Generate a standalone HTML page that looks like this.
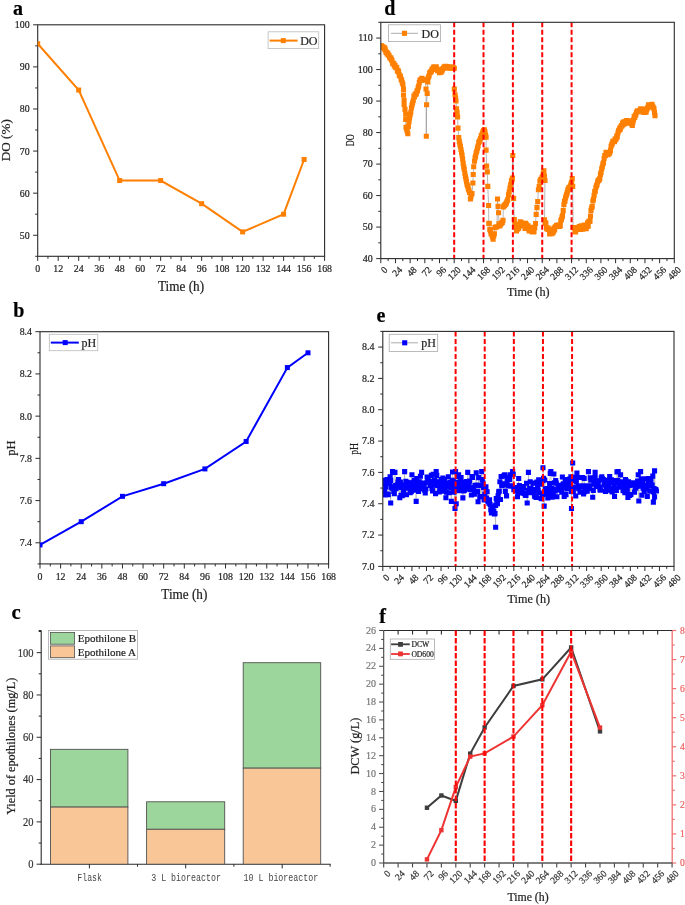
<!DOCTYPE html>
<html><head><meta charset="utf-8"><style>
html,body{margin:0;padding:0;background:#fff;}
svg{display:block;filter:brightness(1);}
</style></head><body>
<svg width="685" height="905" viewBox="0 0 685 905">
<rect width="685" height="905" fill="#fff"/>
<line x1="33.1" y1="235.25" x2="37.7" y2="235.25" stroke="#2b2b2b" stroke-width="1" />
<text x="0" y="0" font-size="9.9" text-anchor="end" fill="#222" stroke="#222" stroke-width="0.2" style="font-family:'Liberation Serif',serif;font-weight:normal" transform="translate(29.7,238.75) scale(1,1.1)" >50</text>
<line x1="33.1" y1="193.16" x2="37.7" y2="193.16" stroke="#2b2b2b" stroke-width="1" />
<text x="0" y="0" font-size="9.9" text-anchor="end" fill="#222" stroke="#222" stroke-width="0.2" style="font-family:'Liberation Serif',serif;font-weight:normal" transform="translate(29.7,196.66) scale(1,1.1)" >60</text>
<line x1="33.1" y1="151.07" x2="37.7" y2="151.07" stroke="#2b2b2b" stroke-width="1" />
<text x="0" y="0" font-size="9.9" text-anchor="end" fill="#222" stroke="#222" stroke-width="0.2" style="font-family:'Liberation Serif',serif;font-weight:normal" transform="translate(29.7,154.57) scale(1,1.1)" >70</text>
<line x1="33.1" y1="108.98" x2="37.7" y2="108.98" stroke="#2b2b2b" stroke-width="1" />
<text x="0" y="0" font-size="9.9" text-anchor="end" fill="#222" stroke="#222" stroke-width="0.2" style="font-family:'Liberation Serif',serif;font-weight:normal" transform="translate(29.7,112.48) scale(1,1.1)" >80</text>
<line x1="33.1" y1="66.89" x2="37.7" y2="66.89" stroke="#2b2b2b" stroke-width="1" />
<text x="0" y="0" font-size="9.9" text-anchor="end" fill="#222" stroke="#222" stroke-width="0.2" style="font-family:'Liberation Serif',serif;font-weight:normal" transform="translate(29.7,70.39) scale(1,1.1)" >90</text>
<line x1="33.1" y1="24.8" x2="37.7" y2="24.8" stroke="#2b2b2b" stroke-width="1" />
<text x="0" y="0" font-size="9.9" text-anchor="end" fill="#222" stroke="#222" stroke-width="0.2" style="font-family:'Liberation Serif',serif;font-weight:normal" transform="translate(29.7,28.3) scale(1,1.1)" >100</text>
<line x1="35.2" y1="256.3" x2="37.7" y2="256.3" stroke="#2b2b2b" stroke-width="1" />
<line x1="35.2" y1="214.21" x2="37.7" y2="214.21" stroke="#2b2b2b" stroke-width="1" />
<line x1="35.2" y1="172.12" x2="37.7" y2="172.12" stroke="#2b2b2b" stroke-width="1" />
<line x1="35.2" y1="130.03" x2="37.7" y2="130.03" stroke="#2b2b2b" stroke-width="1" />
<line x1="35.2" y1="87.94" x2="37.7" y2="87.94" stroke="#2b2b2b" stroke-width="1" />
<line x1="35.2" y1="45.85" x2="37.7" y2="45.85" stroke="#2b2b2b" stroke-width="1" />
<line x1="37.7" y1="256.3" x2="37.7" y2="260.9" stroke="#2b2b2b" stroke-width="1" />
<text x="0" y="0" font-size="9.9" text-anchor="middle" fill="#222" stroke="#222" stroke-width="0.2" style="font-family:'Liberation Serif',serif;font-weight:normal" transform="translate(37.7,272) scale(1,1.1)" >0</text>
<line x1="58.19" y1="256.3" x2="58.19" y2="260.9" stroke="#2b2b2b" stroke-width="1" />
<text x="0" y="0" font-size="9.9" text-anchor="middle" fill="#222" stroke="#222" stroke-width="0.2" style="font-family:'Liberation Serif',serif;font-weight:normal" transform="translate(58.19,272) scale(1,1.1)" >12</text>
<line x1="78.69" y1="256.3" x2="78.69" y2="260.9" stroke="#2b2b2b" stroke-width="1" />
<text x="0" y="0" font-size="9.9" text-anchor="middle" fill="#222" stroke="#222" stroke-width="0.2" style="font-family:'Liberation Serif',serif;font-weight:normal" transform="translate(78.69,272) scale(1,1.1)" >24</text>
<line x1="99.18" y1="256.3" x2="99.18" y2="260.9" stroke="#2b2b2b" stroke-width="1" />
<text x="0" y="0" font-size="9.9" text-anchor="middle" fill="#222" stroke="#222" stroke-width="0.2" style="font-family:'Liberation Serif',serif;font-weight:normal" transform="translate(99.18,272) scale(1,1.1)" >36</text>
<line x1="119.67" y1="256.3" x2="119.67" y2="260.9" stroke="#2b2b2b" stroke-width="1" />
<text x="0" y="0" font-size="9.9" text-anchor="middle" fill="#222" stroke="#222" stroke-width="0.2" style="font-family:'Liberation Serif',serif;font-weight:normal" transform="translate(119.67,272) scale(1,1.1)" >48</text>
<line x1="140.16" y1="256.3" x2="140.16" y2="260.9" stroke="#2b2b2b" stroke-width="1" />
<text x="0" y="0" font-size="9.9" text-anchor="middle" fill="#222" stroke="#222" stroke-width="0.2" style="font-family:'Liberation Serif',serif;font-weight:normal" transform="translate(140.16,272) scale(1,1.1)" >60</text>
<line x1="160.66" y1="256.3" x2="160.66" y2="260.9" stroke="#2b2b2b" stroke-width="1" />
<text x="0" y="0" font-size="9.9" text-anchor="middle" fill="#222" stroke="#222" stroke-width="0.2" style="font-family:'Liberation Serif',serif;font-weight:normal" transform="translate(160.66,272) scale(1,1.1)" >72</text>
<line x1="181.15" y1="256.3" x2="181.15" y2="260.9" stroke="#2b2b2b" stroke-width="1" />
<text x="0" y="0" font-size="9.9" text-anchor="middle" fill="#222" stroke="#222" stroke-width="0.2" style="font-family:'Liberation Serif',serif;font-weight:normal" transform="translate(181.15,272) scale(1,1.1)" >84</text>
<line x1="201.64" y1="256.3" x2="201.64" y2="260.9" stroke="#2b2b2b" stroke-width="1" />
<text x="0" y="0" font-size="9.9" text-anchor="middle" fill="#222" stroke="#222" stroke-width="0.2" style="font-family:'Liberation Serif',serif;font-weight:normal" transform="translate(201.64,272) scale(1,1.1)" >96</text>
<line x1="222.14" y1="256.3" x2="222.14" y2="260.9" stroke="#2b2b2b" stroke-width="1" />
<text x="0" y="0" font-size="9.9" text-anchor="middle" fill="#222" stroke="#222" stroke-width="0.2" style="font-family:'Liberation Serif',serif;font-weight:normal" transform="translate(222.14,272) scale(1,1.1)" >108</text>
<line x1="242.63" y1="256.3" x2="242.63" y2="260.9" stroke="#2b2b2b" stroke-width="1" />
<text x="0" y="0" font-size="9.9" text-anchor="middle" fill="#222" stroke="#222" stroke-width="0.2" style="font-family:'Liberation Serif',serif;font-weight:normal" transform="translate(242.63,272) scale(1,1.1)" >120</text>
<line x1="263.12" y1="256.3" x2="263.12" y2="260.9" stroke="#2b2b2b" stroke-width="1" />
<text x="0" y="0" font-size="9.9" text-anchor="middle" fill="#222" stroke="#222" stroke-width="0.2" style="font-family:'Liberation Serif',serif;font-weight:normal" transform="translate(263.12,272) scale(1,1.1)" >132</text>
<line x1="283.61" y1="256.3" x2="283.61" y2="260.9" stroke="#2b2b2b" stroke-width="1" />
<text x="0" y="0" font-size="9.9" text-anchor="middle" fill="#222" stroke="#222" stroke-width="0.2" style="font-family:'Liberation Serif',serif;font-weight:normal" transform="translate(283.61,272) scale(1,1.1)" >144</text>
<line x1="304.11" y1="256.3" x2="304.11" y2="260.9" stroke="#2b2b2b" stroke-width="1" />
<text x="0" y="0" font-size="9.9" text-anchor="middle" fill="#222" stroke="#222" stroke-width="0.2" style="font-family:'Liberation Serif',serif;font-weight:normal" transform="translate(304.11,272) scale(1,1.1)" >156</text>
<line x1="324.6" y1="256.3" x2="324.6" y2="260.9" stroke="#2b2b2b" stroke-width="1" />
<text x="0" y="0" font-size="9.9" text-anchor="middle" fill="#222" stroke="#222" stroke-width="0.2" style="font-family:'Liberation Serif',serif;font-weight:normal" transform="translate(324.6,272) scale(1,1.1)" >168</text>
<line x1="47.95" y1="256.3" x2="47.95" y2="258.8" stroke="#2b2b2b" stroke-width="1" />
<line x1="68.44" y1="256.3" x2="68.44" y2="258.8" stroke="#2b2b2b" stroke-width="1" />
<line x1="88.93" y1="256.3" x2="88.93" y2="258.8" stroke="#2b2b2b" stroke-width="1" />
<line x1="109.43" y1="256.3" x2="109.43" y2="258.8" stroke="#2b2b2b" stroke-width="1" />
<line x1="129.92" y1="256.3" x2="129.92" y2="258.8" stroke="#2b2b2b" stroke-width="1" />
<line x1="150.41" y1="256.3" x2="150.41" y2="258.8" stroke="#2b2b2b" stroke-width="1" />
<line x1="170.9" y1="256.3" x2="170.9" y2="258.8" stroke="#2b2b2b" stroke-width="1" />
<line x1="191.4" y1="256.3" x2="191.4" y2="258.8" stroke="#2b2b2b" stroke-width="1" />
<line x1="211.89" y1="256.3" x2="211.89" y2="258.8" stroke="#2b2b2b" stroke-width="1" />
<line x1="232.38" y1="256.3" x2="232.38" y2="258.8" stroke="#2b2b2b" stroke-width="1" />
<line x1="252.88" y1="256.3" x2="252.88" y2="258.8" stroke="#2b2b2b" stroke-width="1" />
<line x1="273.37" y1="256.3" x2="273.37" y2="258.8" stroke="#2b2b2b" stroke-width="1" />
<line x1="293.86" y1="256.3" x2="293.86" y2="258.8" stroke="#2b2b2b" stroke-width="1" />
<line x1="314.35" y1="256.3" x2="314.35" y2="258.8" stroke="#2b2b2b" stroke-width="1" />
<rect x="37.7" y="24.8" width="286.9" height="231.5" fill="none" stroke="#2b2b2b" stroke-width="1.1"/>
<clipPath id="ca"><rect x="37.7" y="24.8" width="286.9" height="231.5"/></clipPath>
<g clip-path="url(#ca)"><polyline points="37.7,43.74 78.69,90.04 119.67,180.54 160.66,180.54 201.64,203.69 242.63,231.89 283.61,214.21 304.11,159.49" fill="none" stroke="#FF7F00" stroke-width="2"/>
<rect x="35.2" y="41.24" width="5" height="5" fill="#FF7F00"/>
<rect x="76.19" y="87.54" width="5" height="5" fill="#FF7F00"/>
<rect x="117.17" y="178.04" width="5" height="5" fill="#FF7F00"/>
<rect x="158.16" y="178.04" width="5" height="5" fill="#FF7F00"/>
<rect x="199.14" y="201.19" width="5" height="5" fill="#FF7F00"/>
<rect x="240.13" y="229.39" width="5" height="5" fill="#FF7F00"/>
<rect x="281.11" y="211.71" width="5" height="5" fill="#FF7F00"/>
<rect x="301.61" y="156.99" width="5" height="5" fill="#FF7F00"/>
</g>
<rect x="268.1" y="31.8" width="50.6" height="16.8" fill="#fff" stroke="#bbb" stroke-width="0.8"/>
<line x1="269.6" y1="40.6" x2="297.6" y2="40.6" stroke="#FF7F00" stroke-width="2" />
<rect x="280.8" y="38.1" width="5" height="5" fill="#FF7F00"/>
<text x="300.2" y="44.7" font-size="12" text-anchor="start" fill="#222" stroke="#222" stroke-width="0.2" style="font-family:'Liberation Serif',serif;font-weight:normal" >DO</text>
<text x="0" y="0" font-size="13.2" text-anchor="middle" fill="#222" stroke="#222" stroke-width="0.2" style="font-family:'Liberation Serif',serif;font-weight:normal" transform="translate(181,291.2) scale(1,1.1)" >Time (h)</text>
<text x="0" y="0" font-size="13.2" text-anchor="middle" fill="#222" stroke="#222" stroke-width="0.2" style="font-family:'Liberation Serif',serif" transform="translate(9.6,140.2) rotate(-90)" >DO (%)</text>
<text x="13.1" y="14.6" font-size="20" text-anchor="start" fill="#000" stroke="#000" stroke-width="0.2" style="font-family:'Liberation Serif',serif;font-weight:bold" >a</text>
<line x1="35.4" y1="542.79" x2="40" y2="542.79" stroke="#2b2b2b" stroke-width="1" />
<text x="0" y="0" font-size="9.9" text-anchor="end" fill="#222" stroke="#222" stroke-width="0.2" style="font-family:'Liberation Serif',serif;font-weight:normal" transform="translate(32,546.29) scale(1,1.1)" >7.4</text>
<line x1="35.4" y1="500.57" x2="40" y2="500.57" stroke="#2b2b2b" stroke-width="1" />
<text x="0" y="0" font-size="9.9" text-anchor="end" fill="#222" stroke="#222" stroke-width="0.2" style="font-family:'Liberation Serif',serif;font-weight:normal" transform="translate(32,504.07) scale(1,1.1)" >7.6</text>
<line x1="35.4" y1="458.35" x2="40" y2="458.35" stroke="#2b2b2b" stroke-width="1" />
<text x="0" y="0" font-size="9.9" text-anchor="end" fill="#222" stroke="#222" stroke-width="0.2" style="font-family:'Liberation Serif',serif;font-weight:normal" transform="translate(32,461.85) scale(1,1.1)" >7.8</text>
<line x1="35.4" y1="416.14" x2="40" y2="416.14" stroke="#2b2b2b" stroke-width="1" />
<text x="0" y="0" font-size="9.9" text-anchor="end" fill="#222" stroke="#222" stroke-width="0.2" style="font-family:'Liberation Serif',serif;font-weight:normal" transform="translate(32,419.64) scale(1,1.1)" >8.0</text>
<line x1="35.4" y1="373.92" x2="40" y2="373.92" stroke="#2b2b2b" stroke-width="1" />
<text x="0" y="0" font-size="9.9" text-anchor="end" fill="#222" stroke="#222" stroke-width="0.2" style="font-family:'Liberation Serif',serif;font-weight:normal" transform="translate(32,377.42) scale(1,1.1)" >8.2</text>
<line x1="35.4" y1="331.7" x2="40" y2="331.7" stroke="#2b2b2b" stroke-width="1" />
<text x="0" y="0" font-size="9.9" text-anchor="end" fill="#222" stroke="#222" stroke-width="0.2" style="font-family:'Liberation Serif',serif;font-weight:normal" transform="translate(32,335.2) scale(1,1.1)" >8.4</text>
<line x1="37.5" y1="563.9" x2="40" y2="563.9" stroke="#2b2b2b" stroke-width="1" />
<line x1="37.5" y1="521.68" x2="40" y2="521.68" stroke="#2b2b2b" stroke-width="1" />
<line x1="37.5" y1="479.46" x2="40" y2="479.46" stroke="#2b2b2b" stroke-width="1" />
<line x1="37.5" y1="437.25" x2="40" y2="437.25" stroke="#2b2b2b" stroke-width="1" />
<line x1="37.5" y1="395.03" x2="40" y2="395.03" stroke="#2b2b2b" stroke-width="1" />
<line x1="37.5" y1="352.81" x2="40" y2="352.81" stroke="#2b2b2b" stroke-width="1" />
<line x1="40" y1="563.9" x2="40" y2="568.5" stroke="#2b2b2b" stroke-width="1" />
<text x="0" y="0" font-size="9.9" text-anchor="middle" fill="#222" stroke="#222" stroke-width="0.2" style="font-family:'Liberation Serif',serif;font-weight:normal" transform="translate(40,580.1) scale(1,1.1)" >0</text>
<line x1="60.61" y1="563.9" x2="60.61" y2="568.5" stroke="#2b2b2b" stroke-width="1" />
<text x="0" y="0" font-size="9.9" text-anchor="middle" fill="#222" stroke="#222" stroke-width="0.2" style="font-family:'Liberation Serif',serif;font-weight:normal" transform="translate(60.61,580.1) scale(1,1.1)" >12</text>
<line x1="81.23" y1="563.9" x2="81.23" y2="568.5" stroke="#2b2b2b" stroke-width="1" />
<text x="0" y="0" font-size="9.9" text-anchor="middle" fill="#222" stroke="#222" stroke-width="0.2" style="font-family:'Liberation Serif',serif;font-weight:normal" transform="translate(81.23,580.1) scale(1,1.1)" >24</text>
<line x1="101.84" y1="563.9" x2="101.84" y2="568.5" stroke="#2b2b2b" stroke-width="1" />
<text x="0" y="0" font-size="9.9" text-anchor="middle" fill="#222" stroke="#222" stroke-width="0.2" style="font-family:'Liberation Serif',serif;font-weight:normal" transform="translate(101.84,580.1) scale(1,1.1)" >36</text>
<line x1="122.46" y1="563.9" x2="122.46" y2="568.5" stroke="#2b2b2b" stroke-width="1" />
<text x="0" y="0" font-size="9.9" text-anchor="middle" fill="#222" stroke="#222" stroke-width="0.2" style="font-family:'Liberation Serif',serif;font-weight:normal" transform="translate(122.46,580.1) scale(1,1.1)" >48</text>
<line x1="143.07" y1="563.9" x2="143.07" y2="568.5" stroke="#2b2b2b" stroke-width="1" />
<text x="0" y="0" font-size="9.9" text-anchor="middle" fill="#222" stroke="#222" stroke-width="0.2" style="font-family:'Liberation Serif',serif;font-weight:normal" transform="translate(143.07,580.1) scale(1,1.1)" >60</text>
<line x1="163.69" y1="563.9" x2="163.69" y2="568.5" stroke="#2b2b2b" stroke-width="1" />
<text x="0" y="0" font-size="9.9" text-anchor="middle" fill="#222" stroke="#222" stroke-width="0.2" style="font-family:'Liberation Serif',serif;font-weight:normal" transform="translate(163.69,580.1) scale(1,1.1)" >72</text>
<line x1="184.3" y1="563.9" x2="184.3" y2="568.5" stroke="#2b2b2b" stroke-width="1" />
<text x="0" y="0" font-size="9.9" text-anchor="middle" fill="#222" stroke="#222" stroke-width="0.2" style="font-family:'Liberation Serif',serif;font-weight:normal" transform="translate(184.3,580.1) scale(1,1.1)" >84</text>
<line x1="204.91" y1="563.9" x2="204.91" y2="568.5" stroke="#2b2b2b" stroke-width="1" />
<text x="0" y="0" font-size="9.9" text-anchor="middle" fill="#222" stroke="#222" stroke-width="0.2" style="font-family:'Liberation Serif',serif;font-weight:normal" transform="translate(204.91,580.1) scale(1,1.1)" >96</text>
<line x1="225.53" y1="563.9" x2="225.53" y2="568.5" stroke="#2b2b2b" stroke-width="1" />
<text x="0" y="0" font-size="9.9" text-anchor="middle" fill="#222" stroke="#222" stroke-width="0.2" style="font-family:'Liberation Serif',serif;font-weight:normal" transform="translate(225.53,580.1) scale(1,1.1)" >108</text>
<line x1="246.14" y1="563.9" x2="246.14" y2="568.5" stroke="#2b2b2b" stroke-width="1" />
<text x="0" y="0" font-size="9.9" text-anchor="middle" fill="#222" stroke="#222" stroke-width="0.2" style="font-family:'Liberation Serif',serif;font-weight:normal" transform="translate(246.14,580.1) scale(1,1.1)" >120</text>
<line x1="266.76" y1="563.9" x2="266.76" y2="568.5" stroke="#2b2b2b" stroke-width="1" />
<text x="0" y="0" font-size="9.9" text-anchor="middle" fill="#222" stroke="#222" stroke-width="0.2" style="font-family:'Liberation Serif',serif;font-weight:normal" transform="translate(266.76,580.1) scale(1,1.1)" >132</text>
<line x1="287.37" y1="563.9" x2="287.37" y2="568.5" stroke="#2b2b2b" stroke-width="1" />
<text x="0" y="0" font-size="9.9" text-anchor="middle" fill="#222" stroke="#222" stroke-width="0.2" style="font-family:'Liberation Serif',serif;font-weight:normal" transform="translate(287.37,580.1) scale(1,1.1)" >144</text>
<line x1="307.99" y1="563.9" x2="307.99" y2="568.5" stroke="#2b2b2b" stroke-width="1" />
<text x="0" y="0" font-size="9.9" text-anchor="middle" fill="#222" stroke="#222" stroke-width="0.2" style="font-family:'Liberation Serif',serif;font-weight:normal" transform="translate(307.99,580.1) scale(1,1.1)" >156</text>
<line x1="328.6" y1="563.9" x2="328.6" y2="568.5" stroke="#2b2b2b" stroke-width="1" />
<text x="0" y="0" font-size="9.9" text-anchor="middle" fill="#222" stroke="#222" stroke-width="0.2" style="font-family:'Liberation Serif',serif;font-weight:normal" transform="translate(328.6,580.1) scale(1,1.1)" >168</text>
<line x1="50.31" y1="563.9" x2="50.31" y2="566.4" stroke="#2b2b2b" stroke-width="1" />
<line x1="70.92" y1="563.9" x2="70.92" y2="566.4" stroke="#2b2b2b" stroke-width="1" />
<line x1="91.54" y1="563.9" x2="91.54" y2="566.4" stroke="#2b2b2b" stroke-width="1" />
<line x1="112.15" y1="563.9" x2="112.15" y2="566.4" stroke="#2b2b2b" stroke-width="1" />
<line x1="132.76" y1="563.9" x2="132.76" y2="566.4" stroke="#2b2b2b" stroke-width="1" />
<line x1="153.38" y1="563.9" x2="153.38" y2="566.4" stroke="#2b2b2b" stroke-width="1" />
<line x1="173.99" y1="563.9" x2="173.99" y2="566.4" stroke="#2b2b2b" stroke-width="1" />
<line x1="194.61" y1="563.9" x2="194.61" y2="566.4" stroke="#2b2b2b" stroke-width="1" />
<line x1="215.22" y1="563.9" x2="215.22" y2="566.4" stroke="#2b2b2b" stroke-width="1" />
<line x1="235.84" y1="563.9" x2="235.84" y2="566.4" stroke="#2b2b2b" stroke-width="1" />
<line x1="256.45" y1="563.9" x2="256.45" y2="566.4" stroke="#2b2b2b" stroke-width="1" />
<line x1="277.06" y1="563.9" x2="277.06" y2="566.4" stroke="#2b2b2b" stroke-width="1" />
<line x1="297.68" y1="563.9" x2="297.68" y2="566.4" stroke="#2b2b2b" stroke-width="1" />
<line x1="318.29" y1="563.9" x2="318.29" y2="566.4" stroke="#2b2b2b" stroke-width="1" />
<rect x="40" y="331.7" width="288.6" height="232.2" fill="none" stroke="#2b2b2b" stroke-width="1.1"/>
<clipPath id="cb"><rect x="40" y="331.7" width="288.6" height="232.2"/></clipPath>
<g clip-path="url(#cb)"><polyline points="40,544.9 81.23,521.68 122.46,496.35 163.69,483.69 204.91,468.91 246.14,441.47 287.37,367.59 307.99,352.81" fill="none" stroke="#0000FF" stroke-width="2"/>
<rect x="37.5" y="542.4" width="5" height="5" fill="#0000FF"/>
<rect x="78.73" y="519.18" width="5" height="5" fill="#0000FF"/>
<rect x="119.96" y="493.85" width="5" height="5" fill="#0000FF"/>
<rect x="161.19" y="481.19" width="5" height="5" fill="#0000FF"/>
<rect x="202.41" y="466.41" width="5" height="5" fill="#0000FF"/>
<rect x="243.64" y="438.97" width="5" height="5" fill="#0000FF"/>
<rect x="284.87" y="365.09" width="5" height="5" fill="#0000FF"/>
<rect x="305.49" y="350.31" width="5" height="5" fill="#0000FF"/>
</g>
<rect x="49.3" y="334.3" width="48.5" height="16.4" fill="#fff" stroke="#bbb" stroke-width="0.8"/>
<line x1="50.8" y1="342.6" x2="78.8" y2="342.6" stroke="#0000FF" stroke-width="2" />
<rect x="62.7" y="340.1" width="5" height="5" fill="#0000FF"/>
<text x="81.5" y="346.6" font-size="12" text-anchor="start" fill="#222" stroke="#222" stroke-width="0.2" style="font-family:'Liberation Serif',serif;font-weight:normal" >pH</text>
<text x="0" y="0" font-size="13.2" text-anchor="middle" fill="#222" stroke="#222" stroke-width="0.2" style="font-family:'Liberation Serif',serif;font-weight:normal" transform="translate(184.3,598.9) scale(1,1.1)" >Time (h)</text>
<text x="0" y="0" font-size="12.5" text-anchor="middle" fill="#222" stroke="#222" stroke-width="0.2" style="font-family:'Liberation Serif',serif" transform="translate(15.1,448) rotate(-90)" >pH</text>
<text x="13.3" y="316.7" font-size="20" text-anchor="start" fill="#000" stroke="#000" stroke-width="0.2" style="font-family:'Liberation Serif',serif;font-weight:bold" >b</text>
<line x1="36.6" y1="864.2" x2="41.2" y2="864.2" stroke="#2b2b2b" stroke-width="1" />
<text x="0" y="0" font-size="10.5" text-anchor="end" fill="#333" stroke="#333" stroke-width="0.2" style="font-family:'Liberation Serif',serif;font-weight:normal" transform="translate(33.4,868.1) scale(1,1.12)" >0</text>
<line x1="36.6" y1="821.89" x2="41.2" y2="821.89" stroke="#2b2b2b" stroke-width="1" />
<text x="0" y="0" font-size="10.5" text-anchor="end" fill="#333" stroke="#333" stroke-width="0.2" style="font-family:'Liberation Serif',serif;font-weight:normal" transform="translate(33.4,825.79) scale(1,1.12)" >20</text>
<line x1="36.6" y1="779.58" x2="41.2" y2="779.58" stroke="#2b2b2b" stroke-width="1" />
<text x="0" y="0" font-size="10.5" text-anchor="end" fill="#333" stroke="#333" stroke-width="0.2" style="font-family:'Liberation Serif',serif;font-weight:normal" transform="translate(33.4,783.48) scale(1,1.12)" >40</text>
<line x1="36.6" y1="737.27" x2="41.2" y2="737.27" stroke="#2b2b2b" stroke-width="1" />
<text x="0" y="0" font-size="10.5" text-anchor="end" fill="#333" stroke="#333" stroke-width="0.2" style="font-family:'Liberation Serif',serif;font-weight:normal" transform="translate(33.4,741.17) scale(1,1.12)" >60</text>
<line x1="36.6" y1="694.96" x2="41.2" y2="694.96" stroke="#2b2b2b" stroke-width="1" />
<text x="0" y="0" font-size="10.5" text-anchor="end" fill="#333" stroke="#333" stroke-width="0.2" style="font-family:'Liberation Serif',serif;font-weight:normal" transform="translate(33.4,698.86) scale(1,1.12)" >80</text>
<line x1="36.6" y1="652.65" x2="41.2" y2="652.65" stroke="#2b2b2b" stroke-width="1" />
<text x="0" y="0" font-size="10.5" text-anchor="end" fill="#333" stroke="#333" stroke-width="0.2" style="font-family:'Liberation Serif',serif;font-weight:normal" transform="translate(33.4,656.55) scale(1,1.12)" >100</text>
<line x1="38.7" y1="843.05" x2="41.2" y2="843.05" stroke="#2b2b2b" stroke-width="1" />
<line x1="38.7" y1="800.74" x2="41.2" y2="800.74" stroke="#2b2b2b" stroke-width="1" />
<line x1="38.7" y1="758.43" x2="41.2" y2="758.43" stroke="#2b2b2b" stroke-width="1" />
<line x1="38.7" y1="716.12" x2="41.2" y2="716.12" stroke="#2b2b2b" stroke-width="1" />
<line x1="38.7" y1="673.81" x2="41.2" y2="673.81" stroke="#2b2b2b" stroke-width="1" />
<line x1="38.7" y1="631.5" x2="41.2" y2="631.5" stroke="#2b2b2b" stroke-width="1" />
<line x1="41.2" y1="630.5" x2="41.2" y2="864.7" stroke="#2b2b2b" stroke-width="1.1" />
<line x1="40.7" y1="864.2" x2="330.6" y2="864.2" stroke="#2b2b2b" stroke-width="1.1" />
<rect x="50.5" y="749.33" width="77.4" height="57.75" fill="#9DD69C" stroke="#505050" stroke-width="0.9"/>
<rect x="50.5" y="807.08" width="77.4" height="57.12" fill="#F9C797" stroke="#505050" stroke-width="0.9"/>
<line x1="89.4" y1="864.2" x2="89.4" y2="868.4" stroke="#2b2b2b" stroke-width="1" />
<text x="77.3" y="880.6" font-size="10" text-anchor="start" fill="#444" style="font-family:'Liberation Mono',monospace" textLength="24.7" lengthAdjust="spacingAndGlyphs">Flask</text>
<rect x="146.6" y="801.79" width="78.1" height="27.5" fill="#9DD69C" stroke="#505050" stroke-width="0.9"/>
<rect x="146.6" y="829.29" width="78.1" height="34.91" fill="#F9C797" stroke="#505050" stroke-width="0.9"/>
<line x1="185.7" y1="864.2" x2="185.7" y2="868.4" stroke="#2b2b2b" stroke-width="1" />
<text x="151.2" y="880.6" font-size="10" text-anchor="start" fill="#444" style="font-family:'Liberation Mono',monospace" textLength="69.7" lengthAdjust="spacingAndGlyphs">3 L bioreactor</text>
<rect x="243.2" y="662.7" width="77.5" height="105.46" fill="#9DD69C" stroke="#505050" stroke-width="0.9"/>
<rect x="243.2" y="768.16" width="77.5" height="96.04" fill="#F9C797" stroke="#505050" stroke-width="0.9"/>
<line x1="282.2" y1="864.2" x2="282.2" y2="868.4" stroke="#2b2b2b" stroke-width="1" />
<text x="243.5" y="880.6" font-size="10" text-anchor="start" fill="#444" style="font-family:'Liberation Mono',monospace" textLength="74.7" lengthAdjust="spacingAndGlyphs">10 L bioreactor</text>
<line x1="137.5" y1="864.2" x2="137.5" y2="866.7" stroke="#2b2b2b" stroke-width="1" />
<line x1="233.9" y1="864.2" x2="233.9" y2="866.7" stroke="#2b2b2b" stroke-width="1" />
<line x1="330.1" y1="864.2" x2="330.1" y2="866.7" stroke="#2b2b2b" stroke-width="1" />
<line x1="38.7" y1="630.5" x2="41.2" y2="630.5" stroke="#2b2b2b" stroke-width="1" />
<rect x="48.4" y="630.5" width="89.1" height="28.7" fill="#fff" stroke="#aaa" stroke-width="0.8"/>
<rect x="50.5" y="632.6" width="24.1" height="11.6" fill="#9DD69C" stroke="#505050" stroke-width="0.8"/>
<rect x="50.5" y="645.9" width="24.1" height="11.8" fill="#F9C797" stroke="#505050" stroke-width="0.8"/>
<text x="77.7" y="642.4" font-size="11" text-anchor="start" fill="#222" stroke="#222" stroke-width="0.2" style="font-family:'Liberation Serif',serif;font-weight:normal" >Epothilone B</text>
<text x="77.7" y="655.8" font-size="11" text-anchor="start" fill="#222" stroke="#222" stroke-width="0.2" style="font-family:'Liberation Serif',serif;font-weight:normal" >Epothilone A</text>
<text x="0" y="0" font-size="12.25" text-anchor="middle" fill="#222" stroke="#222" stroke-width="0.2" style="font-family:'Liberation Serif',serif" transform="translate(15,746.3) rotate(-90)" >Yield of epothilones (mg/L)</text>
<text x="11.4" y="619.4" font-size="20.8" text-anchor="start" fill="#000" stroke="#000" stroke-width="0.2" style="font-family:'Liberation Serif',serif;font-weight:bold" >c</text>
<line x1="376.2" y1="258.6" x2="380.8" y2="258.6" stroke="#2b2b2b" stroke-width="1" />
<text x="0" y="0" font-size="10" text-anchor="end" fill="#222" stroke="#222" stroke-width="0.2" style="font-family:'Liberation Serif',serif;font-weight:normal" transform="translate(372.8,262) scale(1,1.1)" >40</text>
<line x1="376.2" y1="227.09" x2="380.8" y2="227.09" stroke="#2b2b2b" stroke-width="1" />
<text x="0" y="0" font-size="10" text-anchor="end" fill="#222" stroke="#222" stroke-width="0.2" style="font-family:'Liberation Serif',serif;font-weight:normal" transform="translate(372.8,230.49) scale(1,1.1)" >50</text>
<line x1="376.2" y1="195.59" x2="380.8" y2="195.59" stroke="#2b2b2b" stroke-width="1" />
<text x="0" y="0" font-size="10" text-anchor="end" fill="#222" stroke="#222" stroke-width="0.2" style="font-family:'Liberation Serif',serif;font-weight:normal" transform="translate(372.8,198.99) scale(1,1.1)" >60</text>
<line x1="376.2" y1="164.08" x2="380.8" y2="164.08" stroke="#2b2b2b" stroke-width="1" />
<text x="0" y="0" font-size="10" text-anchor="end" fill="#222" stroke="#222" stroke-width="0.2" style="font-family:'Liberation Serif',serif;font-weight:normal" transform="translate(372.8,167.48) scale(1,1.1)" >70</text>
<line x1="376.2" y1="132.57" x2="380.8" y2="132.57" stroke="#2b2b2b" stroke-width="1" />
<text x="0" y="0" font-size="10" text-anchor="end" fill="#222" stroke="#222" stroke-width="0.2" style="font-family:'Liberation Serif',serif;font-weight:normal" transform="translate(372.8,135.97) scale(1,1.1)" >80</text>
<line x1="376.2" y1="101.07" x2="380.8" y2="101.07" stroke="#2b2b2b" stroke-width="1" />
<text x="0" y="0" font-size="10" text-anchor="end" fill="#222" stroke="#222" stroke-width="0.2" style="font-family:'Liberation Serif',serif;font-weight:normal" transform="translate(372.8,104.47) scale(1,1.1)" >90</text>
<line x1="376.2" y1="69.56" x2="380.8" y2="69.56" stroke="#2b2b2b" stroke-width="1" />
<text x="0" y="0" font-size="10" text-anchor="end" fill="#222" stroke="#222" stroke-width="0.2" style="font-family:'Liberation Serif',serif;font-weight:normal" transform="translate(372.8,72.96) scale(1,1.1)" >100</text>
<line x1="376.2" y1="38.05" x2="380.8" y2="38.05" stroke="#2b2b2b" stroke-width="1" />
<text x="0" y="0" font-size="10" text-anchor="end" fill="#222" stroke="#222" stroke-width="0.2" style="font-family:'Liberation Serif',serif;font-weight:normal" transform="translate(372.8,41.45) scale(1,1.1)" >110</text>
<line x1="378.3" y1="242.85" x2="380.8" y2="242.85" stroke="#2b2b2b" stroke-width="1" />
<line x1="378.3" y1="211.34" x2="380.8" y2="211.34" stroke="#2b2b2b" stroke-width="1" />
<line x1="378.3" y1="179.83" x2="380.8" y2="179.83" stroke="#2b2b2b" stroke-width="1" />
<line x1="378.3" y1="148.33" x2="380.8" y2="148.33" stroke="#2b2b2b" stroke-width="1" />
<line x1="378.3" y1="116.82" x2="380.8" y2="116.82" stroke="#2b2b2b" stroke-width="1" />
<line x1="378.3" y1="85.31" x2="380.8" y2="85.31" stroke="#2b2b2b" stroke-width="1" />
<line x1="378.3" y1="53.81" x2="380.8" y2="53.81" stroke="#2b2b2b" stroke-width="1" />
<line x1="378.3" y1="22.3" x2="380.8" y2="22.3" stroke="#2b2b2b" stroke-width="1" />
<line x1="380.8" y1="258.6" x2="380.8" y2="263.2" stroke="#2b2b2b" stroke-width="1" />
<text x="0" y="0" font-size="9.5" text-anchor="end" fill="#222" stroke="#222" stroke-width="0.2" style="font-family:'Liberation Serif',serif" transform="translate(388.1,270.3) rotate(-45)">0</text>
<line x1="395.48" y1="258.6" x2="395.48" y2="263.2" stroke="#2b2b2b" stroke-width="1" />
<text x="0" y="0" font-size="9.5" text-anchor="end" fill="#222" stroke="#222" stroke-width="0.2" style="font-family:'Liberation Serif',serif" transform="translate(402.78,270.3) rotate(-45)">24</text>
<line x1="410.15" y1="258.6" x2="410.15" y2="263.2" stroke="#2b2b2b" stroke-width="1" />
<text x="0" y="0" font-size="9.5" text-anchor="end" fill="#222" stroke="#222" stroke-width="0.2" style="font-family:'Liberation Serif',serif" transform="translate(417.45,270.3) rotate(-45)">48</text>
<line x1="424.82" y1="258.6" x2="424.82" y2="263.2" stroke="#2b2b2b" stroke-width="1" />
<text x="0" y="0" font-size="9.5" text-anchor="end" fill="#222" stroke="#222" stroke-width="0.2" style="font-family:'Liberation Serif',serif" transform="translate(432.12,270.3) rotate(-45)">72</text>
<line x1="439.5" y1="258.6" x2="439.5" y2="263.2" stroke="#2b2b2b" stroke-width="1" />
<text x="0" y="0" font-size="9.5" text-anchor="end" fill="#222" stroke="#222" stroke-width="0.2" style="font-family:'Liberation Serif',serif" transform="translate(446.8,270.3) rotate(-45)">96</text>
<line x1="454.18" y1="258.6" x2="454.18" y2="263.2" stroke="#2b2b2b" stroke-width="1" />
<text x="0" y="0" font-size="9.5" text-anchor="end" fill="#222" stroke="#222" stroke-width="0.2" style="font-family:'Liberation Serif',serif" transform="translate(461.48,270.3) rotate(-45)">120</text>
<line x1="468.85" y1="258.6" x2="468.85" y2="263.2" stroke="#2b2b2b" stroke-width="1" />
<text x="0" y="0" font-size="9.5" text-anchor="end" fill="#222" stroke="#222" stroke-width="0.2" style="font-family:'Liberation Serif',serif" transform="translate(476.15,270.3) rotate(-45)">144</text>
<line x1="483.52" y1="258.6" x2="483.52" y2="263.2" stroke="#2b2b2b" stroke-width="1" />
<text x="0" y="0" font-size="9.5" text-anchor="end" fill="#222" stroke="#222" stroke-width="0.2" style="font-family:'Liberation Serif',serif" transform="translate(490.82,270.3) rotate(-45)">168</text>
<line x1="498.2" y1="258.6" x2="498.2" y2="263.2" stroke="#2b2b2b" stroke-width="1" />
<text x="0" y="0" font-size="9.5" text-anchor="end" fill="#222" stroke="#222" stroke-width="0.2" style="font-family:'Liberation Serif',serif" transform="translate(505.5,270.3) rotate(-45)">192</text>
<line x1="512.88" y1="258.6" x2="512.88" y2="263.2" stroke="#2b2b2b" stroke-width="1" />
<text x="0" y="0" font-size="9.5" text-anchor="end" fill="#222" stroke="#222" stroke-width="0.2" style="font-family:'Liberation Serif',serif" transform="translate(520.17,270.3) rotate(-45)">216</text>
<line x1="527.55" y1="258.6" x2="527.55" y2="263.2" stroke="#2b2b2b" stroke-width="1" />
<text x="0" y="0" font-size="9.5" text-anchor="end" fill="#222" stroke="#222" stroke-width="0.2" style="font-family:'Liberation Serif',serif" transform="translate(534.85,270.3) rotate(-45)">240</text>
<line x1="542.23" y1="258.6" x2="542.23" y2="263.2" stroke="#2b2b2b" stroke-width="1" />
<text x="0" y="0" font-size="9.5" text-anchor="end" fill="#222" stroke="#222" stroke-width="0.2" style="font-family:'Liberation Serif',serif" transform="translate(549.52,270.3) rotate(-45)">264</text>
<line x1="556.9" y1="258.6" x2="556.9" y2="263.2" stroke="#2b2b2b" stroke-width="1" />
<text x="0" y="0" font-size="9.5" text-anchor="end" fill="#222" stroke="#222" stroke-width="0.2" style="font-family:'Liberation Serif',serif" transform="translate(564.2,270.3) rotate(-45)">288</text>
<line x1="571.58" y1="258.6" x2="571.58" y2="263.2" stroke="#2b2b2b" stroke-width="1" />
<text x="0" y="0" font-size="9.5" text-anchor="end" fill="#222" stroke="#222" stroke-width="0.2" style="font-family:'Liberation Serif',serif" transform="translate(578.88,270.3) rotate(-45)">312</text>
<line x1="586.25" y1="258.6" x2="586.25" y2="263.2" stroke="#2b2b2b" stroke-width="1" />
<text x="0" y="0" font-size="9.5" text-anchor="end" fill="#222" stroke="#222" stroke-width="0.2" style="font-family:'Liberation Serif',serif" transform="translate(593.55,270.3) rotate(-45)">336</text>
<line x1="600.92" y1="258.6" x2="600.92" y2="263.2" stroke="#2b2b2b" stroke-width="1" />
<text x="0" y="0" font-size="9.5" text-anchor="end" fill="#222" stroke="#222" stroke-width="0.2" style="font-family:'Liberation Serif',serif" transform="translate(608.22,270.3) rotate(-45)">360</text>
<line x1="615.6" y1="258.6" x2="615.6" y2="263.2" stroke="#2b2b2b" stroke-width="1" />
<text x="0" y="0" font-size="9.5" text-anchor="end" fill="#222" stroke="#222" stroke-width="0.2" style="font-family:'Liberation Serif',serif" transform="translate(622.9,270.3) rotate(-45)">384</text>
<line x1="630.27" y1="258.6" x2="630.27" y2="263.2" stroke="#2b2b2b" stroke-width="1" />
<text x="0" y="0" font-size="9.5" text-anchor="end" fill="#222" stroke="#222" stroke-width="0.2" style="font-family:'Liberation Serif',serif" transform="translate(637.57,270.3) rotate(-45)">408</text>
<line x1="644.95" y1="258.6" x2="644.95" y2="263.2" stroke="#2b2b2b" stroke-width="1" />
<text x="0" y="0" font-size="9.5" text-anchor="end" fill="#222" stroke="#222" stroke-width="0.2" style="font-family:'Liberation Serif',serif" transform="translate(652.25,270.3) rotate(-45)">432</text>
<line x1="659.62" y1="258.6" x2="659.62" y2="263.2" stroke="#2b2b2b" stroke-width="1" />
<text x="0" y="0" font-size="9.5" text-anchor="end" fill="#222" stroke="#222" stroke-width="0.2" style="font-family:'Liberation Serif',serif" transform="translate(666.92,270.3) rotate(-45)">456</text>
<line x1="674.3" y1="258.6" x2="674.3" y2="263.2" stroke="#2b2b2b" stroke-width="1" />
<text x="0" y="0" font-size="9.5" text-anchor="end" fill="#222" stroke="#222" stroke-width="0.2" style="font-family:'Liberation Serif',serif" transform="translate(681.6,270.3) rotate(-45)">480</text>
<line x1="388.14" y1="258.6" x2="388.14" y2="261.1" stroke="#2b2b2b" stroke-width="1" />
<line x1="402.81" y1="258.6" x2="402.81" y2="261.1" stroke="#2b2b2b" stroke-width="1" />
<line x1="417.49" y1="258.6" x2="417.49" y2="261.1" stroke="#2b2b2b" stroke-width="1" />
<line x1="432.16" y1="258.6" x2="432.16" y2="261.1" stroke="#2b2b2b" stroke-width="1" />
<line x1="446.84" y1="258.6" x2="446.84" y2="261.1" stroke="#2b2b2b" stroke-width="1" />
<line x1="461.51" y1="258.6" x2="461.51" y2="261.1" stroke="#2b2b2b" stroke-width="1" />
<line x1="476.19" y1="258.6" x2="476.19" y2="261.1" stroke="#2b2b2b" stroke-width="1" />
<line x1="490.86" y1="258.6" x2="490.86" y2="261.1" stroke="#2b2b2b" stroke-width="1" />
<line x1="505.54" y1="258.6" x2="505.54" y2="261.1" stroke="#2b2b2b" stroke-width="1" />
<line x1="520.21" y1="258.6" x2="520.21" y2="261.1" stroke="#2b2b2b" stroke-width="1" />
<line x1="534.89" y1="258.6" x2="534.89" y2="261.1" stroke="#2b2b2b" stroke-width="1" />
<line x1="549.56" y1="258.6" x2="549.56" y2="261.1" stroke="#2b2b2b" stroke-width="1" />
<line x1="564.24" y1="258.6" x2="564.24" y2="261.1" stroke="#2b2b2b" stroke-width="1" />
<line x1="578.91" y1="258.6" x2="578.91" y2="261.1" stroke="#2b2b2b" stroke-width="1" />
<line x1="593.59" y1="258.6" x2="593.59" y2="261.1" stroke="#2b2b2b" stroke-width="1" />
<line x1="608.26" y1="258.6" x2="608.26" y2="261.1" stroke="#2b2b2b" stroke-width="1" />
<line x1="622.94" y1="258.6" x2="622.94" y2="261.1" stroke="#2b2b2b" stroke-width="1" />
<line x1="637.61" y1="258.6" x2="637.61" y2="261.1" stroke="#2b2b2b" stroke-width="1" />
<line x1="652.29" y1="258.6" x2="652.29" y2="261.1" stroke="#2b2b2b" stroke-width="1" />
<line x1="666.96" y1="258.6" x2="666.96" y2="261.1" stroke="#2b2b2b" stroke-width="1" />
<clipPath id="cd"><rect x="380.8" y="22.3" width="293.5" height="236.3"/></clipPath>
<g clip-path="url(#cd)">
<polyline points="380.8,45.62 381.5,46.13 382.2,46.47 382.9,47.05 383.5,47.54 384.1,49.03 384.7,47.73 385.3,49.88 385.9,52.14 386.5,52.39 387.12,54.06 387.73,53.03 388.35,54.97 388.97,55.41 389.58,57.2 390.2,58.29 390.8,57.85 391.4,59.4 392,60.58 392.6,63.25 393.2,63.87 393.8,63.31 394.4,65.97 395,65.26 395.6,67.51 396.2,67.23 396.8,67.9 397.4,71.17 398.02,70.67 398.65,71.91 399.27,75.13 399.9,76.07 400.5,76.31 401.1,79.29 401.7,80.08 402.3,82.76 402.9,84.21 403.5,89.38 403.5,94.98 404.1,100.33 404.1,104.49 405,109.4 405.7,114.32 405.7,119.43 406,127.29 406.6,128.96 407.2,131.27 407.8,133.71 408.4,126.41 409,121.66 409.6,117.93 410.2,114.82 410.8,112.19 411.4,107.86 412,105.13 412.6,103.06 413.25,100.46 413.9,96.11 414.5,96.97 415.1,94.09 415.7,94.56 416.3,93.77 416.9,91.14 417.5,90.68 418.1,87.83 418.7,86.26 419.3,82.67 419.9,80.29 420.53,79.76 421.17,80.51 421.8,78.19 422.4,79.51 423,80.06 423.6,80.28 424.2,79.29 424.8,79.51 425.4,80.05 426,89.05 426.3,136.32 426.6,104.8 427.2,93.34 427.8,81.92 428.4,77.22 429,75.99 429.62,73.06 430.25,72.33 430.88,71.65 431.5,71.04 432.1,69.13 432.7,69.55 433.3,68.04 433.9,66.82 434.5,66.98 435.1,66.85 435.7,66.81 436.3,67.1 436.93,69.1 437.55,70.64 438.18,69.9 438.8,70.6 439.4,72.77 440,72.17 440.6,72.21 441.2,72.17 441.8,71.04 442.4,69.65 443.02,68.46 443.65,67.94 444.27,66.76 444.9,68.03 445.5,66.27 446.1,67.19 446.7,67.88 447.3,66.46 447.9,67.66 448.5,68.1 449.1,67.56 449.7,67.98 450.3,66.71 450.9,67.47 451.5,67 452.1,68.49 452.65,67.31 453.2,67.56 453.75,68.57 454.3,68.2 454.3,89.15 455,94.71 455.5,97.68 456,101.06 456.6,108.86 457.1,112.63 457.6,117.01 458,128.09 458.8,137.65 459.33,141.64 459.87,144.35 460.4,146.45 460.97,149.5 461.53,152.48 462.1,155.28 462.63,158.98 463.17,163.33 463.7,166.83 464.27,169.12 464.83,173.27 465.4,176.55 465.97,179.16 466.53,181.86 467.1,184.82 467.7,186.1 468.3,188.86 468.9,190.09 469.5,192.57 470.4,198.94 470.93,196.85 471.47,194.12 472,193.49 472.9,183 473.2,174.56 473.7,166.72 474.5,161.19 475.07,157.83 475.63,155.91 476.2,152.73 476.82,150.96 477.45,148.14 478.07,145.97 478.7,142.6 479.32,141.51 479.95,140.03 480.57,138.53 481.2,135.9 481.8,135.24 482.4,133.64 483,131.63 483.6,130.55 484.4,129.71 484.97,131.87 485.53,134.93 486.1,137.23 486.1,150.17 486.6,166.17 487.3,171.85 487.8,186.38 488.6,205.44 488.8,223.35 489.3,223.46 489.8,229.4 490.4,230.9 491,233.83 491.7,234.24 492.4,236.89 493.1,239.27 493.73,235.95 494.37,233.74 495,227.64 495.67,226.97 496.33,227.04 497,226.75 497.5,199.04 498.05,206.42 498.6,212.76 499,223.71 499.67,225.86 500.33,224.63 501,223.77 501.67,222.83 502.33,222.42 503,220.41 503.4,206.99 504,205.7 504.6,205.6 505.2,204.46 505.8,203.96 506.4,202.95 507,201.28 507.75,199.66 508.5,194.9 509.2,192.06 509.9,188.16 510.65,184.77 511.4,180.53 511.9,180.51 512.4,178.15 512.8,155.57 513.6,198.33 514.3,219.61 514.85,223.94 515.4,224.07 515.95,227.07 516.5,230.93 517.12,229.54 517.75,226.48 518.38,228.5 519,226.91 519.66,224.26 520.32,221.91 520.98,223.91 521.64,222.81 522.3,224.43 522.97,225.62 523.65,224.45 524.33,223.92 525,228.52 525.6,223.21 526.2,224.29 526.8,227.62 527.4,228.34 528,225.7 528.6,229.03 529.2,230.9 529.8,227.81 530.4,228.36 531,227.25 531.6,227.67 532.2,232.02 532.8,228.23 533.4,231.95 534,231.65 534.75,227.61 535.5,223.46 536.2,214.36 536.95,207.59 537.7,201.63 538.4,189.74 539.15,186.67 539.9,181.28 540.6,179.91 541.3,179.32 542,177.64 542.63,176.21 543.27,173.42 543.9,170.69 544.45,176.06 545,180.55 544.5,219.73 545.17,222.67 545.85,223.35 546.53,228.09 547.2,229.24 547.8,227.88 548.4,228.98 549,229.48 549.62,233.88 550.25,231.54 550.88,233.65 551.5,233.79 552.13,233.49 552.76,232.27 553.39,231.84 554.01,228.05 554.64,229.83 555.27,226.77 555.9,226.75 556.53,225.66 557.16,225.28 557.79,226.09 558.41,225.59 559.04,224.92 559.67,226.39 560.3,225.5 560.85,220.51 561.4,219.5 561.95,217.36 562.5,215.73 563.2,210.58 563.9,204.79 564.45,201.53 565,200.86 565.55,197.96 566.1,196.05 566.65,194.49 567.2,192.51 567.75,190.39 568.3,189.42 568.85,187.82 569.4,187.28 569.95,187.65 570.5,185.79 571.07,183.69 571.63,182.46 572.2,178.63 572.7,186.37 573.1,227.43 573.73,227.44 574.37,228.01 575,231.65 575.63,231.95 576.27,227.95 576.9,229.25 577.53,229.27 578.17,228.71 578.8,227.59 579.42,226.63 580.04,228.59 580.67,229.56 581.29,225.88 581.91,226.55 582.53,229.27 583.16,229.02 583.78,228.3 584.4,225.12 585.03,228 585.67,228.76 586.3,228.39 586.93,226.5 587.57,222.9 588.2,226.24 588.8,221.39 589.4,221.57 590,221.17 590.5,215.93 591,210.33 591.63,207.7 592.27,206.57 592.9,200.98 593.5,199.32 594.1,195.56 594.7,191.62 595.28,191.21 595.86,187.48 596.44,185.81 597.02,184.79 597.6,181.93 598.16,180.38 598.72,180.54 599.28,179.58 599.84,178.51 600.4,174.63 601.03,172.45 601.67,168.94 602.3,166.72 602.9,163.87 603.5,162.8 604.1,158.5 604.73,155.61 605.37,155.8 606,152.18 606.63,153.72 607.27,153.32 607.9,154.61 608.53,153.48 609.17,153.69 609.8,152.54 610.43,150.33 611.07,146.25 611.7,144.7 612.26,143.37 612.82,141.57 613.38,141.31 613.94,141.17 614.5,141.76 615.06,139.03 615.62,139.8 616.18,138.68 616.74,135.91 617.3,136.84 617.93,132.83 618.57,130.77 619.2,130.1 619.76,128.02 620.32,129.13 620.88,126.92 621.44,125.47 622,126.05 622.56,123.03 623.12,124.7 623.68,121.99 624.24,121.74 624.8,123.75 625.43,122.71 626.07,121.08 626.7,120.57 627.33,123.15 627.97,121.99 628.6,122.33 629.22,120.78 629.83,122.97 630.45,122.73 631.07,122.99 631.68,123.93 632.3,125.46 632.93,122.12 633.57,119.73 634.2,116.44 634.76,117.34 635.32,115.43 635.88,114.61 636.44,112.11 637,112.13 637.63,110.89 638.27,110.96 638.9,110.73 639.53,111.1 640.17,109.83 640.8,108.71 641.39,108.76 641.97,109.55 642.56,109.28 643.15,112.25 643.74,111.19 644.33,112.33 644.91,110.15 645.5,111.9 646.1,112.09 646.7,110.06 647.3,108.29 647.9,107.25 648.5,104.92 649.08,104.98 649.67,104.88 650.25,105.45 650.83,105.37 651.42,106.83 652,104.39 652.67,106.21 653.33,107.79 654,108.92 654.5,112.57 655,115.65" fill="none" stroke="#888" stroke-width="0.6"/>
<path fill="#FF7F00" d="M378.25 43.07h5.1v5.1h-5.1zM378.95 43.58h5.1v5.1h-5.1zM379.65 43.92h5.1v5.1h-5.1zM380.35 44.5h5.1v5.1h-5.1zM380.95 44.99h5.1v5.1h-5.1zM381.55 46.48h5.1v5.1h-5.1zM382.15 45.18h5.1v5.1h-5.1zM382.75 47.33h5.1v5.1h-5.1zM383.35 49.59h5.1v5.1h-5.1zM383.95 49.84h5.1v5.1h-5.1zM384.57 51.51h5.1v5.1h-5.1zM385.18 50.48h5.1v5.1h-5.1zM385.8 52.42h5.1v5.1h-5.1zM386.42 52.86h5.1v5.1h-5.1zM387.03 54.65h5.1v5.1h-5.1zM387.65 55.74h5.1v5.1h-5.1zM388.25 55.3h5.1v5.1h-5.1zM388.85 56.85h5.1v5.1h-5.1zM389.45 58.03h5.1v5.1h-5.1zM390.05 60.7h5.1v5.1h-5.1zM390.65 61.32h5.1v5.1h-5.1zM391.25 60.76h5.1v5.1h-5.1zM391.85 63.42h5.1v5.1h-5.1zM392.45 62.71h5.1v5.1h-5.1zM393.05 64.96h5.1v5.1h-5.1zM393.65 64.68h5.1v5.1h-5.1zM394.25 65.35h5.1v5.1h-5.1zM394.85 68.62h5.1v5.1h-5.1zM395.47 68.12h5.1v5.1h-5.1zM396.1 69.36h5.1v5.1h-5.1zM396.72 72.58h5.1v5.1h-5.1zM397.35 73.52h5.1v5.1h-5.1zM397.95 73.76h5.1v5.1h-5.1zM398.55 76.74h5.1v5.1h-5.1zM399.15 77.53h5.1v5.1h-5.1zM399.75 80.21h5.1v5.1h-5.1zM400.35 81.66h5.1v5.1h-5.1zM400.95 86.83h5.1v5.1h-5.1zM400.95 92.43h5.1v5.1h-5.1zM401.55 97.78h5.1v5.1h-5.1zM401.55 101.94h5.1v5.1h-5.1zM402.45 106.85h5.1v5.1h-5.1zM403.15 111.77h5.1v5.1h-5.1zM403.15 116.88h5.1v5.1h-5.1zM403.45 124.74h5.1v5.1h-5.1zM404.05 126.41h5.1v5.1h-5.1zM404.65 128.72h5.1v5.1h-5.1zM405.25 131.16h5.1v5.1h-5.1zM405.85 123.86h5.1v5.1h-5.1zM406.45 119.11h5.1v5.1h-5.1zM407.05 115.38h5.1v5.1h-5.1zM407.65 112.27h5.1v5.1h-5.1zM408.25 109.64h5.1v5.1h-5.1zM408.85 105.31h5.1v5.1h-5.1zM409.45 102.58h5.1v5.1h-5.1zM410.05 100.51h5.1v5.1h-5.1zM410.7 97.91h5.1v5.1h-5.1zM411.35 93.56h5.1v5.1h-5.1zM411.95 94.42h5.1v5.1h-5.1zM412.55 91.54h5.1v5.1h-5.1zM413.15 92.01h5.1v5.1h-5.1zM413.75 91.22h5.1v5.1h-5.1zM414.35 88.59h5.1v5.1h-5.1zM414.95 88.13h5.1v5.1h-5.1zM415.55 85.28h5.1v5.1h-5.1zM416.15 83.71h5.1v5.1h-5.1zM416.75 80.12h5.1v5.1h-5.1zM417.35 77.74h5.1v5.1h-5.1zM417.98 77.21h5.1v5.1h-5.1zM418.62 77.96h5.1v5.1h-5.1zM419.25 75.64h5.1v5.1h-5.1zM419.85 76.96h5.1v5.1h-5.1zM420.45 77.51h5.1v5.1h-5.1zM421.05 77.73h5.1v5.1h-5.1zM421.65 76.74h5.1v5.1h-5.1zM422.25 76.96h5.1v5.1h-5.1zM422.85 77.5h5.1v5.1h-5.1zM423.45 86.5h5.1v5.1h-5.1zM423.75 133.77h5.1v5.1h-5.1zM424.05 102.25h5.1v5.1h-5.1zM424.65 90.79h5.1v5.1h-5.1zM425.25 79.37h5.1v5.1h-5.1zM425.85 74.67h5.1v5.1h-5.1zM426.45 73.44h5.1v5.1h-5.1zM427.07 70.51h5.1v5.1h-5.1zM427.7 69.78h5.1v5.1h-5.1zM428.32 69.1h5.1v5.1h-5.1zM428.95 68.49h5.1v5.1h-5.1zM429.55 66.58h5.1v5.1h-5.1zM430.15 67h5.1v5.1h-5.1zM430.75 65.49h5.1v5.1h-5.1zM431.35 64.27h5.1v5.1h-5.1zM431.95 64.43h5.1v5.1h-5.1zM432.55 64.3h5.1v5.1h-5.1zM433.15 64.26h5.1v5.1h-5.1zM433.75 64.55h5.1v5.1h-5.1zM434.38 66.55h5.1v5.1h-5.1zM435 68.09h5.1v5.1h-5.1zM435.62 67.35h5.1v5.1h-5.1zM436.25 68.05h5.1v5.1h-5.1zM436.85 70.22h5.1v5.1h-5.1zM437.45 69.62h5.1v5.1h-5.1zM438.05 69.66h5.1v5.1h-5.1zM438.65 69.62h5.1v5.1h-5.1zM439.25 68.49h5.1v5.1h-5.1zM439.85 67.1h5.1v5.1h-5.1zM440.47 65.91h5.1v5.1h-5.1zM441.1 65.39h5.1v5.1h-5.1zM441.72 64.21h5.1v5.1h-5.1zM442.35 65.48h5.1v5.1h-5.1zM442.95 63.72h5.1v5.1h-5.1zM443.55 64.64h5.1v5.1h-5.1zM444.15 65.33h5.1v5.1h-5.1zM444.75 63.91h5.1v5.1h-5.1zM445.35 65.11h5.1v5.1h-5.1zM445.95 65.55h5.1v5.1h-5.1zM446.55 65.01h5.1v5.1h-5.1zM447.15 65.43h5.1v5.1h-5.1zM447.75 64.16h5.1v5.1h-5.1zM448.35 64.92h5.1v5.1h-5.1zM448.95 64.45h5.1v5.1h-5.1zM449.55 65.94h5.1v5.1h-5.1zM450.1 64.76h5.1v5.1h-5.1zM450.65 65.01h5.1v5.1h-5.1zM451.2 66.02h5.1v5.1h-5.1zM451.75 65.65h5.1v5.1h-5.1zM451.75 86.6h5.1v5.1h-5.1zM452.45 92.16h5.1v5.1h-5.1zM452.95 95.13h5.1v5.1h-5.1zM453.45 98.51h5.1v5.1h-5.1zM454.05 106.31h5.1v5.1h-5.1zM454.55 110.08h5.1v5.1h-5.1zM455.05 114.46h5.1v5.1h-5.1zM455.45 125.54h5.1v5.1h-5.1zM456.25 135.1h5.1v5.1h-5.1zM456.78 139.09h5.1v5.1h-5.1zM457.32 141.8h5.1v5.1h-5.1zM457.85 143.9h5.1v5.1h-5.1zM458.42 146.95h5.1v5.1h-5.1zM458.98 149.93h5.1v5.1h-5.1zM459.55 152.73h5.1v5.1h-5.1zM460.08 156.43h5.1v5.1h-5.1zM460.62 160.78h5.1v5.1h-5.1zM461.15 164.28h5.1v5.1h-5.1zM461.72 166.57h5.1v5.1h-5.1zM462.28 170.72h5.1v5.1h-5.1zM462.85 174h5.1v5.1h-5.1zM463.42 176.61h5.1v5.1h-5.1zM463.98 179.31h5.1v5.1h-5.1zM464.55 182.27h5.1v5.1h-5.1zM465.15 183.55h5.1v5.1h-5.1zM465.75 186.31h5.1v5.1h-5.1zM466.35 187.54h5.1v5.1h-5.1zM466.95 190.02h5.1v5.1h-5.1zM467.85 196.39h5.1v5.1h-5.1zM468.38 194.3h5.1v5.1h-5.1zM468.92 191.57h5.1v5.1h-5.1zM469.45 190.94h5.1v5.1h-5.1zM470.35 180.45h5.1v5.1h-5.1zM470.65 172.01h5.1v5.1h-5.1zM471.15 164.17h5.1v5.1h-5.1zM471.95 158.64h5.1v5.1h-5.1zM472.52 155.28h5.1v5.1h-5.1zM473.08 153.36h5.1v5.1h-5.1zM473.65 150.18h5.1v5.1h-5.1zM474.27 148.41h5.1v5.1h-5.1zM474.9 145.59h5.1v5.1h-5.1zM475.52 143.42h5.1v5.1h-5.1zM476.15 140.05h5.1v5.1h-5.1zM476.77 138.96h5.1v5.1h-5.1zM477.4 137.48h5.1v5.1h-5.1zM478.02 135.98h5.1v5.1h-5.1zM478.65 133.35h5.1v5.1h-5.1zM479.25 132.69h5.1v5.1h-5.1zM479.85 131.09h5.1v5.1h-5.1zM480.45 129.08h5.1v5.1h-5.1zM481.05 128h5.1v5.1h-5.1zM481.85 127.16h5.1v5.1h-5.1zM482.42 129.32h5.1v5.1h-5.1zM482.98 132.38h5.1v5.1h-5.1zM483.55 134.68h5.1v5.1h-5.1zM483.55 147.62h5.1v5.1h-5.1zM484.05 163.62h5.1v5.1h-5.1zM484.75 169.3h5.1v5.1h-5.1zM485.25 183.83h5.1v5.1h-5.1zM486.05 202.89h5.1v5.1h-5.1zM486.25 220.8h5.1v5.1h-5.1zM486.75 220.91h5.1v5.1h-5.1zM487.25 226.85h5.1v5.1h-5.1zM487.85 228.35h5.1v5.1h-5.1zM488.45 231.28h5.1v5.1h-5.1zM489.15 231.69h5.1v5.1h-5.1zM489.85 234.34h5.1v5.1h-5.1zM490.55 236.72h5.1v5.1h-5.1zM491.18 233.4h5.1v5.1h-5.1zM491.82 231.19h5.1v5.1h-5.1zM492.45 225.09h5.1v5.1h-5.1zM493.12 224.42h5.1v5.1h-5.1zM493.78 224.49h5.1v5.1h-5.1zM494.45 224.2h5.1v5.1h-5.1zM494.95 196.49h5.1v5.1h-5.1zM495.5 203.87h5.1v5.1h-5.1zM496.05 210.21h5.1v5.1h-5.1zM496.45 221.16h5.1v5.1h-5.1zM497.12 223.31h5.1v5.1h-5.1zM497.78 222.08h5.1v5.1h-5.1zM498.45 221.22h5.1v5.1h-5.1zM499.12 220.28h5.1v5.1h-5.1zM499.78 219.87h5.1v5.1h-5.1zM500.45 217.86h5.1v5.1h-5.1zM500.85 204.44h5.1v5.1h-5.1zM501.45 203.15h5.1v5.1h-5.1zM502.05 203.05h5.1v5.1h-5.1zM502.65 201.91h5.1v5.1h-5.1zM503.25 201.41h5.1v5.1h-5.1zM503.85 200.4h5.1v5.1h-5.1zM504.45 198.73h5.1v5.1h-5.1zM505.2 197.11h5.1v5.1h-5.1zM505.95 192.35h5.1v5.1h-5.1zM506.65 189.51h5.1v5.1h-5.1zM507.35 185.61h5.1v5.1h-5.1zM508.1 182.22h5.1v5.1h-5.1zM508.85 177.98h5.1v5.1h-5.1zM509.35 177.96h5.1v5.1h-5.1zM509.85 175.6h5.1v5.1h-5.1zM510.25 153.02h5.1v5.1h-5.1zM511.05 195.78h5.1v5.1h-5.1zM511.75 217.06h5.1v5.1h-5.1zM512.3 221.39h5.1v5.1h-5.1zM512.85 221.52h5.1v5.1h-5.1zM513.4 224.52h5.1v5.1h-5.1zM513.95 228.38h5.1v5.1h-5.1zM514.58 226.99h5.1v5.1h-5.1zM515.2 223.93h5.1v5.1h-5.1zM515.83 225.95h5.1v5.1h-5.1zM516.45 224.36h5.1v5.1h-5.1zM517.11 221.71h5.1v5.1h-5.1zM517.77 219.36h5.1v5.1h-5.1zM518.43 221.36h5.1v5.1h-5.1zM519.09 220.26h5.1v5.1h-5.1zM519.75 221.88h5.1v5.1h-5.1zM520.42 223.07h5.1v5.1h-5.1zM521.1 221.9h5.1v5.1h-5.1zM521.78 221.37h5.1v5.1h-5.1zM522.45 225.97h5.1v5.1h-5.1zM523.05 220.66h5.1v5.1h-5.1zM523.65 221.74h5.1v5.1h-5.1zM524.25 225.07h5.1v5.1h-5.1zM524.85 225.79h5.1v5.1h-5.1zM525.45 223.15h5.1v5.1h-5.1zM526.05 226.48h5.1v5.1h-5.1zM526.65 228.35h5.1v5.1h-5.1zM527.25 225.26h5.1v5.1h-5.1zM527.85 225.81h5.1v5.1h-5.1zM528.45 224.7h5.1v5.1h-5.1zM529.05 225.12h5.1v5.1h-5.1zM529.65 229.47h5.1v5.1h-5.1zM530.25 225.68h5.1v5.1h-5.1zM530.85 229.4h5.1v5.1h-5.1zM531.45 229.1h5.1v5.1h-5.1zM532.2 225.06h5.1v5.1h-5.1zM532.95 220.91h5.1v5.1h-5.1zM533.65 211.81h5.1v5.1h-5.1zM534.4 205.04h5.1v5.1h-5.1zM535.15 199.08h5.1v5.1h-5.1zM535.85 187.19h5.1v5.1h-5.1zM536.6 184.12h5.1v5.1h-5.1zM537.35 178.73h5.1v5.1h-5.1zM538.05 177.36h5.1v5.1h-5.1zM538.75 176.77h5.1v5.1h-5.1zM539.45 175.09h5.1v5.1h-5.1zM540.08 173.66h5.1v5.1h-5.1zM540.72 170.87h5.1v5.1h-5.1zM541.35 168.14h5.1v5.1h-5.1zM541.9 173.51h5.1v5.1h-5.1zM542.45 178h5.1v5.1h-5.1zM541.95 217.18h5.1v5.1h-5.1zM542.62 220.12h5.1v5.1h-5.1zM543.3 220.8h5.1v5.1h-5.1zM543.98 225.54h5.1v5.1h-5.1zM544.65 226.69h5.1v5.1h-5.1zM545.25 225.33h5.1v5.1h-5.1zM545.85 226.43h5.1v5.1h-5.1zM546.45 226.93h5.1v5.1h-5.1zM547.08 231.33h5.1v5.1h-5.1zM547.7 228.99h5.1v5.1h-5.1zM548.33 231.1h5.1v5.1h-5.1zM548.95 231.24h5.1v5.1h-5.1zM549.58 230.94h5.1v5.1h-5.1zM550.21 229.72h5.1v5.1h-5.1zM550.84 229.29h5.1v5.1h-5.1zM551.46 225.5h5.1v5.1h-5.1zM552.09 227.28h5.1v5.1h-5.1zM552.72 224.22h5.1v5.1h-5.1zM553.35 224.2h5.1v5.1h-5.1zM553.98 223.11h5.1v5.1h-5.1zM554.61 222.73h5.1v5.1h-5.1zM555.24 223.54h5.1v5.1h-5.1zM555.86 223.04h5.1v5.1h-5.1zM556.49 222.37h5.1v5.1h-5.1zM557.12 223.84h5.1v5.1h-5.1zM557.75 222.95h5.1v5.1h-5.1zM558.3 217.96h5.1v5.1h-5.1zM558.85 216.95h5.1v5.1h-5.1zM559.4 214.81h5.1v5.1h-5.1zM559.95 213.18h5.1v5.1h-5.1zM560.65 208.03h5.1v5.1h-5.1zM561.35 202.24h5.1v5.1h-5.1zM561.9 198.98h5.1v5.1h-5.1zM562.45 198.31h5.1v5.1h-5.1zM563 195.41h5.1v5.1h-5.1zM563.55 193.5h5.1v5.1h-5.1zM564.1 191.94h5.1v5.1h-5.1zM564.65 189.96h5.1v5.1h-5.1zM565.2 187.84h5.1v5.1h-5.1zM565.75 186.87h5.1v5.1h-5.1zM566.3 185.27h5.1v5.1h-5.1zM566.85 184.73h5.1v5.1h-5.1zM567.4 185.1h5.1v5.1h-5.1zM567.95 183.24h5.1v5.1h-5.1zM568.52 181.14h5.1v5.1h-5.1zM569.08 179.91h5.1v5.1h-5.1zM569.65 176.08h5.1v5.1h-5.1zM570.15 183.82h5.1v5.1h-5.1zM570.55 224.88h5.1v5.1h-5.1zM571.18 224.89h5.1v5.1h-5.1zM571.82 225.46h5.1v5.1h-5.1zM572.45 229.1h5.1v5.1h-5.1zM573.08 229.4h5.1v5.1h-5.1zM573.72 225.4h5.1v5.1h-5.1zM574.35 226.7h5.1v5.1h-5.1zM574.98 226.72h5.1v5.1h-5.1zM575.62 226.16h5.1v5.1h-5.1zM576.25 225.04h5.1v5.1h-5.1zM576.87 224.08h5.1v5.1h-5.1zM577.49 226.04h5.1v5.1h-5.1zM578.12 227.01h5.1v5.1h-5.1zM578.74 223.33h5.1v5.1h-5.1zM579.36 224h5.1v5.1h-5.1zM579.98 226.72h5.1v5.1h-5.1zM580.61 226.47h5.1v5.1h-5.1zM581.23 225.75h5.1v5.1h-5.1zM581.85 222.57h5.1v5.1h-5.1zM582.48 225.45h5.1v5.1h-5.1zM583.12 226.21h5.1v5.1h-5.1zM583.75 225.84h5.1v5.1h-5.1zM584.38 223.95h5.1v5.1h-5.1zM585.02 220.35h5.1v5.1h-5.1zM585.65 223.69h5.1v5.1h-5.1zM586.25 218.84h5.1v5.1h-5.1zM586.85 219.02h5.1v5.1h-5.1zM587.45 218.62h5.1v5.1h-5.1zM587.95 213.38h5.1v5.1h-5.1zM588.45 207.78h5.1v5.1h-5.1zM589.08 205.15h5.1v5.1h-5.1zM589.72 204.02h5.1v5.1h-5.1zM590.35 198.43h5.1v5.1h-5.1zM590.95 196.77h5.1v5.1h-5.1zM591.55 193.01h5.1v5.1h-5.1zM592.15 189.07h5.1v5.1h-5.1zM592.73 188.66h5.1v5.1h-5.1zM593.31 184.93h5.1v5.1h-5.1zM593.89 183.26h5.1v5.1h-5.1zM594.47 182.24h5.1v5.1h-5.1zM595.05 179.38h5.1v5.1h-5.1zM595.61 177.83h5.1v5.1h-5.1zM596.17 177.99h5.1v5.1h-5.1zM596.73 177.03h5.1v5.1h-5.1zM597.29 175.96h5.1v5.1h-5.1zM597.85 172.08h5.1v5.1h-5.1zM598.48 169.9h5.1v5.1h-5.1zM599.12 166.39h5.1v5.1h-5.1zM599.75 164.17h5.1v5.1h-5.1zM600.35 161.32h5.1v5.1h-5.1zM600.95 160.25h5.1v5.1h-5.1zM601.55 155.95h5.1v5.1h-5.1zM602.18 153.06h5.1v5.1h-5.1zM602.82 153.25h5.1v5.1h-5.1zM603.45 149.63h5.1v5.1h-5.1zM604.08 151.17h5.1v5.1h-5.1zM604.72 150.77h5.1v5.1h-5.1zM605.35 152.06h5.1v5.1h-5.1zM605.98 150.93h5.1v5.1h-5.1zM606.62 151.14h5.1v5.1h-5.1zM607.25 149.99h5.1v5.1h-5.1zM607.88 147.78h5.1v5.1h-5.1zM608.52 143.7h5.1v5.1h-5.1zM609.15 142.15h5.1v5.1h-5.1zM609.71 140.82h5.1v5.1h-5.1zM610.27 139.02h5.1v5.1h-5.1zM610.83 138.76h5.1v5.1h-5.1zM611.39 138.62h5.1v5.1h-5.1zM611.95 139.21h5.1v5.1h-5.1zM612.51 136.48h5.1v5.1h-5.1zM613.07 137.25h5.1v5.1h-5.1zM613.63 136.13h5.1v5.1h-5.1zM614.19 133.36h5.1v5.1h-5.1zM614.75 134.29h5.1v5.1h-5.1zM615.38 130.28h5.1v5.1h-5.1zM616.02 128.22h5.1v5.1h-5.1zM616.65 127.55h5.1v5.1h-5.1zM617.21 125.47h5.1v5.1h-5.1zM617.77 126.58h5.1v5.1h-5.1zM618.33 124.37h5.1v5.1h-5.1zM618.89 122.92h5.1v5.1h-5.1zM619.45 123.5h5.1v5.1h-5.1zM620.01 120.48h5.1v5.1h-5.1zM620.57 122.15h5.1v5.1h-5.1zM621.13 119.44h5.1v5.1h-5.1zM621.69 119.19h5.1v5.1h-5.1zM622.25 121.2h5.1v5.1h-5.1zM622.88 120.16h5.1v5.1h-5.1zM623.52 118.53h5.1v5.1h-5.1zM624.15 118.02h5.1v5.1h-5.1zM624.78 120.6h5.1v5.1h-5.1zM625.42 119.44h5.1v5.1h-5.1zM626.05 119.78h5.1v5.1h-5.1zM626.67 118.23h5.1v5.1h-5.1zM627.28 120.42h5.1v5.1h-5.1zM627.9 120.18h5.1v5.1h-5.1zM628.52 120.44h5.1v5.1h-5.1zM629.13 121.38h5.1v5.1h-5.1zM629.75 122.91h5.1v5.1h-5.1zM630.38 119.57h5.1v5.1h-5.1zM631.02 117.18h5.1v5.1h-5.1zM631.65 113.89h5.1v5.1h-5.1zM632.21 114.79h5.1v5.1h-5.1zM632.77 112.88h5.1v5.1h-5.1zM633.33 112.06h5.1v5.1h-5.1zM633.89 109.56h5.1v5.1h-5.1zM634.45 109.58h5.1v5.1h-5.1zM635.08 108.34h5.1v5.1h-5.1zM635.72 108.41h5.1v5.1h-5.1zM636.35 108.18h5.1v5.1h-5.1zM636.98 108.55h5.1v5.1h-5.1zM637.62 107.28h5.1v5.1h-5.1zM638.25 106.16h5.1v5.1h-5.1zM638.84 106.21h5.1v5.1h-5.1zM639.42 107h5.1v5.1h-5.1zM640.01 106.73h5.1v5.1h-5.1zM640.6 109.7h5.1v5.1h-5.1zM641.19 108.64h5.1v5.1h-5.1zM641.78 109.78h5.1v5.1h-5.1zM642.36 107.6h5.1v5.1h-5.1zM642.95 109.35h5.1v5.1h-5.1zM643.55 109.54h5.1v5.1h-5.1zM644.15 107.51h5.1v5.1h-5.1zM644.75 105.74h5.1v5.1h-5.1zM645.35 104.7h5.1v5.1h-5.1zM645.95 102.37h5.1v5.1h-5.1zM646.53 102.43h5.1v5.1h-5.1zM647.12 102.33h5.1v5.1h-5.1zM647.7 102.9h5.1v5.1h-5.1zM648.28 102.82h5.1v5.1h-5.1zM648.87 104.28h5.1v5.1h-5.1zM649.45 101.84h5.1v5.1h-5.1zM650.12 103.66h5.1v5.1h-5.1zM650.78 105.24h5.1v5.1h-5.1zM651.45 106.37h5.1v5.1h-5.1zM651.95 110.02h5.1v5.1h-5.1zM652.45 113.1h5.1v5.1h-5.1z"/>
<line x1="454.18" y1="22.3" x2="454.18" y2="258.6" stroke="#FF0000" stroke-width="2" stroke-dasharray="5 2.5"/>
<line x1="483.52" y1="22.3" x2="483.52" y2="258.6" stroke="#FF0000" stroke-width="2" stroke-dasharray="5 2.5"/>
<line x1="512.88" y1="22.3" x2="512.88" y2="258.6" stroke="#FF0000" stroke-width="2" stroke-dasharray="5 2.5"/>
<line x1="542.23" y1="22.3" x2="542.23" y2="258.6" stroke="#FF0000" stroke-width="2" stroke-dasharray="5 2.5"/>
<line x1="571.58" y1="22.3" x2="571.58" y2="258.6" stroke="#FF0000" stroke-width="2" stroke-dasharray="5 2.5"/>
</g>
<rect x="380.8" y="22.3" width="293.5" height="236.3" fill="none" stroke="#2b2b2b" stroke-width="1.1"/>
<rect x="388.5" y="24.8" width="52.1" height="16.8" fill="#fff" stroke="#aaa" stroke-width="0.8"/>
<line x1="391" y1="33.3" x2="418" y2="33.3" stroke="#888" stroke-width="0.7" />
<rect x="401.95" y="30.75" width="5.1" height="5.1" fill="#FF7F00"/>
<text x="421.6" y="37.6" font-size="12" text-anchor="start" fill="#222" stroke="#222" stroke-width="0.2" style="font-family:'Liberation Serif',serif;font-weight:normal" >DO</text>
<text x="0" y="0" font-size="12.2" text-anchor="middle" fill="#222" stroke="#222" stroke-width="0.2" style="font-family:'Liberation Serif',serif;font-weight:normal" transform="translate(528.3,295.6) scale(1,1.06)" >Time (h)</text>
<text x="0" y="0" font-size="13" text-anchor="middle" fill="#222" stroke="#222" stroke-width="0.2" style="font-family:'Liberation Serif',serif" transform="translate(353.9,140.2) rotate(-90)" textLength="11.9" lengthAdjust="spacingAndGlyphs">DO</text>
<text x="384.2" y="14.5" font-size="20" text-anchor="start" fill="#000" stroke="#000" stroke-width="0.2" style="font-family:'Liberation Serif',serif;font-weight:bold" >d</text>
<line x1="378.2" y1="566.4" x2="382.8" y2="566.4" stroke="#2b2b2b" stroke-width="1" />
<text x="0" y="0" font-size="10" text-anchor="end" fill="#222" stroke="#222" stroke-width="0.2" style="font-family:'Liberation Serif',serif;font-weight:normal" transform="translate(374.5,569.8) scale(1,1.1)" >7.0</text>
<line x1="378.2" y1="535.07" x2="382.8" y2="535.07" stroke="#2b2b2b" stroke-width="1" />
<text x="0" y="0" font-size="10" text-anchor="end" fill="#222" stroke="#222" stroke-width="0.2" style="font-family:'Liberation Serif',serif;font-weight:normal" transform="translate(374.5,538.47) scale(1,1.1)" >7.2</text>
<line x1="378.2" y1="503.73" x2="382.8" y2="503.73" stroke="#2b2b2b" stroke-width="1" />
<text x="0" y="0" font-size="10" text-anchor="end" fill="#222" stroke="#222" stroke-width="0.2" style="font-family:'Liberation Serif',serif;font-weight:normal" transform="translate(374.5,507.13) scale(1,1.1)" >7.4</text>
<line x1="378.2" y1="472.4" x2="382.8" y2="472.4" stroke="#2b2b2b" stroke-width="1" />
<text x="0" y="0" font-size="10" text-anchor="end" fill="#222" stroke="#222" stroke-width="0.2" style="font-family:'Liberation Serif',serif;font-weight:normal" transform="translate(374.5,475.8) scale(1,1.1)" >7.6</text>
<line x1="378.2" y1="441.07" x2="382.8" y2="441.07" stroke="#2b2b2b" stroke-width="1" />
<text x="0" y="0" font-size="10" text-anchor="end" fill="#222" stroke="#222" stroke-width="0.2" style="font-family:'Liberation Serif',serif;font-weight:normal" transform="translate(374.5,444.47) scale(1,1.1)" >7.8</text>
<line x1="378.2" y1="409.73" x2="382.8" y2="409.73" stroke="#2b2b2b" stroke-width="1" />
<text x="0" y="0" font-size="10" text-anchor="end" fill="#222" stroke="#222" stroke-width="0.2" style="font-family:'Liberation Serif',serif;font-weight:normal" transform="translate(374.5,413.13) scale(1,1.1)" >8.0</text>
<line x1="378.2" y1="378.4" x2="382.8" y2="378.4" stroke="#2b2b2b" stroke-width="1" />
<text x="0" y="0" font-size="10" text-anchor="end" fill="#222" stroke="#222" stroke-width="0.2" style="font-family:'Liberation Serif',serif;font-weight:normal" transform="translate(374.5,381.8) scale(1,1.1)" >8.2</text>
<line x1="378.2" y1="347.07" x2="382.8" y2="347.07" stroke="#2b2b2b" stroke-width="1" />
<text x="0" y="0" font-size="10" text-anchor="end" fill="#222" stroke="#222" stroke-width="0.2" style="font-family:'Liberation Serif',serif;font-weight:normal" transform="translate(374.5,350.47) scale(1,1.1)" >8.4</text>
<line x1="380.3" y1="550.73" x2="382.8" y2="550.73" stroke="#2b2b2b" stroke-width="1" />
<line x1="380.3" y1="519.4" x2="382.8" y2="519.4" stroke="#2b2b2b" stroke-width="1" />
<line x1="380.3" y1="488.07" x2="382.8" y2="488.07" stroke="#2b2b2b" stroke-width="1" />
<line x1="380.3" y1="456.73" x2="382.8" y2="456.73" stroke="#2b2b2b" stroke-width="1" />
<line x1="380.3" y1="425.4" x2="382.8" y2="425.4" stroke="#2b2b2b" stroke-width="1" />
<line x1="380.3" y1="394.07" x2="382.8" y2="394.07" stroke="#2b2b2b" stroke-width="1" />
<line x1="380.3" y1="362.73" x2="382.8" y2="362.73" stroke="#2b2b2b" stroke-width="1" />
<line x1="380.3" y1="331.4" x2="382.8" y2="331.4" stroke="#2b2b2b" stroke-width="1" />
<line x1="382.8" y1="566.4" x2="382.8" y2="571" stroke="#2b2b2b" stroke-width="1" />
<text x="0" y="0" font-size="9.5" text-anchor="end" fill="#222" stroke="#222" stroke-width="0.2" style="font-family:'Liberation Serif',serif" transform="translate(390.1,578.1) rotate(-45)">0</text>
<line x1="397.36" y1="566.4" x2="397.36" y2="571" stroke="#2b2b2b" stroke-width="1" />
<text x="0" y="0" font-size="9.5" text-anchor="end" fill="#222" stroke="#222" stroke-width="0.2" style="font-family:'Liberation Serif',serif" transform="translate(404.66,578.1) rotate(-45)">24</text>
<line x1="411.92" y1="566.4" x2="411.92" y2="571" stroke="#2b2b2b" stroke-width="1" />
<text x="0" y="0" font-size="9.5" text-anchor="end" fill="#222" stroke="#222" stroke-width="0.2" style="font-family:'Liberation Serif',serif" transform="translate(419.22,578.1) rotate(-45)">48</text>
<line x1="426.48" y1="566.4" x2="426.48" y2="571" stroke="#2b2b2b" stroke-width="1" />
<text x="0" y="0" font-size="9.5" text-anchor="end" fill="#222" stroke="#222" stroke-width="0.2" style="font-family:'Liberation Serif',serif" transform="translate(433.78,578.1) rotate(-45)">72</text>
<line x1="441.04" y1="566.4" x2="441.04" y2="571" stroke="#2b2b2b" stroke-width="1" />
<text x="0" y="0" font-size="9.5" text-anchor="end" fill="#222" stroke="#222" stroke-width="0.2" style="font-family:'Liberation Serif',serif" transform="translate(448.34,578.1) rotate(-45)">96</text>
<line x1="455.6" y1="566.4" x2="455.6" y2="571" stroke="#2b2b2b" stroke-width="1" />
<text x="0" y="0" font-size="9.5" text-anchor="end" fill="#222" stroke="#222" stroke-width="0.2" style="font-family:'Liberation Serif',serif" transform="translate(462.9,578.1) rotate(-45)">120</text>
<line x1="470.16" y1="566.4" x2="470.16" y2="571" stroke="#2b2b2b" stroke-width="1" />
<text x="0" y="0" font-size="9.5" text-anchor="end" fill="#222" stroke="#222" stroke-width="0.2" style="font-family:'Liberation Serif',serif" transform="translate(477.46,578.1) rotate(-45)">144</text>
<line x1="484.72" y1="566.4" x2="484.72" y2="571" stroke="#2b2b2b" stroke-width="1" />
<text x="0" y="0" font-size="9.5" text-anchor="end" fill="#222" stroke="#222" stroke-width="0.2" style="font-family:'Liberation Serif',serif" transform="translate(492.02,578.1) rotate(-45)">168</text>
<line x1="499.28" y1="566.4" x2="499.28" y2="571" stroke="#2b2b2b" stroke-width="1" />
<text x="0" y="0" font-size="9.5" text-anchor="end" fill="#222" stroke="#222" stroke-width="0.2" style="font-family:'Liberation Serif',serif" transform="translate(506.58,578.1) rotate(-45)">192</text>
<line x1="513.84" y1="566.4" x2="513.84" y2="571" stroke="#2b2b2b" stroke-width="1" />
<text x="0" y="0" font-size="9.5" text-anchor="end" fill="#222" stroke="#222" stroke-width="0.2" style="font-family:'Liberation Serif',serif" transform="translate(521.14,578.1) rotate(-45)">216</text>
<line x1="528.4" y1="566.4" x2="528.4" y2="571" stroke="#2b2b2b" stroke-width="1" />
<text x="0" y="0" font-size="9.5" text-anchor="end" fill="#222" stroke="#222" stroke-width="0.2" style="font-family:'Liberation Serif',serif" transform="translate(535.7,578.1) rotate(-45)">240</text>
<line x1="542.96" y1="566.4" x2="542.96" y2="571" stroke="#2b2b2b" stroke-width="1" />
<text x="0" y="0" font-size="9.5" text-anchor="end" fill="#222" stroke="#222" stroke-width="0.2" style="font-family:'Liberation Serif',serif" transform="translate(550.26,578.1) rotate(-45)">264</text>
<line x1="557.52" y1="566.4" x2="557.52" y2="571" stroke="#2b2b2b" stroke-width="1" />
<text x="0" y="0" font-size="9.5" text-anchor="end" fill="#222" stroke="#222" stroke-width="0.2" style="font-family:'Liberation Serif',serif" transform="translate(564.82,578.1) rotate(-45)">288</text>
<line x1="572.08" y1="566.4" x2="572.08" y2="571" stroke="#2b2b2b" stroke-width="1" />
<text x="0" y="0" font-size="9.5" text-anchor="end" fill="#222" stroke="#222" stroke-width="0.2" style="font-family:'Liberation Serif',serif" transform="translate(579.38,578.1) rotate(-45)">312</text>
<line x1="586.64" y1="566.4" x2="586.64" y2="571" stroke="#2b2b2b" stroke-width="1" />
<text x="0" y="0" font-size="9.5" text-anchor="end" fill="#222" stroke="#222" stroke-width="0.2" style="font-family:'Liberation Serif',serif" transform="translate(593.94,578.1) rotate(-45)">336</text>
<line x1="601.2" y1="566.4" x2="601.2" y2="571" stroke="#2b2b2b" stroke-width="1" />
<text x="0" y="0" font-size="9.5" text-anchor="end" fill="#222" stroke="#222" stroke-width="0.2" style="font-family:'Liberation Serif',serif" transform="translate(608.5,578.1) rotate(-45)">360</text>
<line x1="615.76" y1="566.4" x2="615.76" y2="571" stroke="#2b2b2b" stroke-width="1" />
<text x="0" y="0" font-size="9.5" text-anchor="end" fill="#222" stroke="#222" stroke-width="0.2" style="font-family:'Liberation Serif',serif" transform="translate(623.06,578.1) rotate(-45)">384</text>
<line x1="630.32" y1="566.4" x2="630.32" y2="571" stroke="#2b2b2b" stroke-width="1" />
<text x="0" y="0" font-size="9.5" text-anchor="end" fill="#222" stroke="#222" stroke-width="0.2" style="font-family:'Liberation Serif',serif" transform="translate(637.62,578.1) rotate(-45)">408</text>
<line x1="644.88" y1="566.4" x2="644.88" y2="571" stroke="#2b2b2b" stroke-width="1" />
<text x="0" y="0" font-size="9.5" text-anchor="end" fill="#222" stroke="#222" stroke-width="0.2" style="font-family:'Liberation Serif',serif" transform="translate(652.18,578.1) rotate(-45)">432</text>
<line x1="659.44" y1="566.4" x2="659.44" y2="571" stroke="#2b2b2b" stroke-width="1" />
<text x="0" y="0" font-size="9.5" text-anchor="end" fill="#222" stroke="#222" stroke-width="0.2" style="font-family:'Liberation Serif',serif" transform="translate(666.74,578.1) rotate(-45)">456</text>
<line x1="674" y1="566.4" x2="674" y2="571" stroke="#2b2b2b" stroke-width="1" />
<text x="0" y="0" font-size="9.5" text-anchor="end" fill="#222" stroke="#222" stroke-width="0.2" style="font-family:'Liberation Serif',serif" transform="translate(681.3,578.1) rotate(-45)">480</text>
<line x1="390.08" y1="566.4" x2="390.08" y2="568.9" stroke="#2b2b2b" stroke-width="1" />
<line x1="404.64" y1="566.4" x2="404.64" y2="568.9" stroke="#2b2b2b" stroke-width="1" />
<line x1="419.2" y1="566.4" x2="419.2" y2="568.9" stroke="#2b2b2b" stroke-width="1" />
<line x1="433.76" y1="566.4" x2="433.76" y2="568.9" stroke="#2b2b2b" stroke-width="1" />
<line x1="448.32" y1="566.4" x2="448.32" y2="568.9" stroke="#2b2b2b" stroke-width="1" />
<line x1="462.88" y1="566.4" x2="462.88" y2="568.9" stroke="#2b2b2b" stroke-width="1" />
<line x1="477.44" y1="566.4" x2="477.44" y2="568.9" stroke="#2b2b2b" stroke-width="1" />
<line x1="492" y1="566.4" x2="492" y2="568.9" stroke="#2b2b2b" stroke-width="1" />
<line x1="506.56" y1="566.4" x2="506.56" y2="568.9" stroke="#2b2b2b" stroke-width="1" />
<line x1="521.12" y1="566.4" x2="521.12" y2="568.9" stroke="#2b2b2b" stroke-width="1" />
<line x1="535.68" y1="566.4" x2="535.68" y2="568.9" stroke="#2b2b2b" stroke-width="1" />
<line x1="550.24" y1="566.4" x2="550.24" y2="568.9" stroke="#2b2b2b" stroke-width="1" />
<line x1="564.8" y1="566.4" x2="564.8" y2="568.9" stroke="#2b2b2b" stroke-width="1" />
<line x1="579.36" y1="566.4" x2="579.36" y2="568.9" stroke="#2b2b2b" stroke-width="1" />
<line x1="593.92" y1="566.4" x2="593.92" y2="568.9" stroke="#2b2b2b" stroke-width="1" />
<line x1="608.48" y1="566.4" x2="608.48" y2="568.9" stroke="#2b2b2b" stroke-width="1" />
<line x1="623.04" y1="566.4" x2="623.04" y2="568.9" stroke="#2b2b2b" stroke-width="1" />
<line x1="637.6" y1="566.4" x2="637.6" y2="568.9" stroke="#2b2b2b" stroke-width="1" />
<line x1="652.16" y1="566.4" x2="652.16" y2="568.9" stroke="#2b2b2b" stroke-width="1" />
<line x1="666.72" y1="566.4" x2="666.72" y2="568.9" stroke="#2b2b2b" stroke-width="1" />
<clipPath id="ce"><rect x="382.8" y="331.4" width="291.2" height="235"/></clipPath>
<g clip-path="url(#ce)">
<polyline points="382.8,494.17 383.41,484.13 384.01,480.26 384.62,489.72 385.23,494.83 385.83,486.91 386.44,483.5 387.05,479.62 387.65,494.12 388.26,494.6 388.87,482.08 389.47,483.53 390.08,476.89 390.69,502.95 390.69,480.34 391.29,487.14 391.9,488.22 392.51,471.62 393.11,488.31 393.72,491.42 394.33,493.63 394.93,485.9 394.93,472.4 395.54,485.59 396.15,488.66 396.75,486.89 397.36,484.79 397.97,482.16 398.57,479.63 399.18,485.19 399.79,497.72 400.39,482.1 401,495.4 401.61,487.57 402.21,495.74 402.82,486.49 403.43,491.38 404.03,485.16 404.64,471.62 405.25,486.8 405.85,481.22 406.46,494.79 407.07,488.31 407.67,482.35 408.28,487.08 408.89,484.18 409.49,485.85 410.1,492.81 410.71,482.97 411.31,491.59 411.92,474.77 412.53,489.67 413.13,482.2 413.74,486.49 414.35,480.53 414.95,490.27 415.56,480.24 416.17,501.38 416.17,487.28 416.77,478.58 417.38,482.59 417.99,485.61 418.59,491.39 419.2,481.69 419.81,483.57 420.41,476.21 421.02,488.86 421.63,483.02 421.63,472.4 422.23,483.32 422.84,484.73 423.45,485.19 424.05,485.36 424.66,490.25 425.27,492.86 425.87,488.98 426.48,482.8 427.09,477.03 427.69,480.38 428.3,479.9 428.91,481.63 429.51,482.12 430.12,485.35 430.73,481.67 431.33,475.38 431.94,488.55 432.55,490.85 433.15,474.22 433.76,484.97 434.37,480.42 434.97,481.02 435.58,493.62 436.19,471.62 436.79,475.37 437.4,485.39 438.01,481.78 438.61,485.7 439.22,492.04 439.83,487.2 440.43,484.16 441.04,479.51 441.65,482.06 442.25,486.13 442.86,478.01 443.47,491.27 444.07,481.53 444.68,479.53 445.29,488.33 445.89,497.72 446.5,492.18 447.11,485.01 447.71,483.19 448.32,476.8 448.93,492.79 449.53,486.49 450.14,482.43 450.75,487.49 451.35,501.35 451.96,481.45 452.57,472.01 453.17,480.21 453.78,492.25 454.39,489.08 454.99,508.43 454.99,485.11 455.6,471.62 456.21,503.73 456.21,482.63 456.81,485.79 457.42,476.74 458.03,487.01 458.63,474.84 459.24,490.79 459.85,489.48 460.45,481.98 461.06,477.57 461.67,482.4 462.27,484.61 462.88,497.92 463.49,490.97 464.09,490.33 464.7,489.84 465.31,482.82 465.91,488.6 466.52,481.56 467.13,485.98 467.73,488.59 467.73,472.4 468.34,485.76 468.95,483.81 469.55,481.12 470.16,489.49 470.77,487.96 471.37,495.05 471.98,476.45 472.59,477.4 473.19,487.62 473.8,489.5 474.41,494.24 475.01,485.44 475.62,485.21 476.23,472.83 476.83,484.96 477.44,491.37 478.05,501.82 478.65,477.67 479.26,485.31 479.87,496.58 480.47,485.37 481.08,496.58 481.69,471.62 482.29,479.49 482.9,482.91 483.51,487.6 484.11,499.91 484.72,494.16 485.33,498.23 485.93,486.87 486.54,498.06 487.15,491.78 487.75,500.88 488.36,501.53 488.97,503.26 489.57,499.69 490.18,504.52 490.79,509.82 491.39,512.9 492,506.82 492.61,508.07 493.21,512.14 493.82,511 494.43,513.91 495.03,513.57 495.64,527.23 495.64,505.38 496.25,498.58 496.85,500.11 497.46,503.81 498.07,495.86 498.67,491.88 499.28,491.29 499.89,481.71 500.49,499.54 501.1,476.51 501.71,485.23 502.31,485.75 502.92,483.74 503.53,476.2 504.13,475.47 504.74,474.68 505.35,491.42 505.95,484.72 506.56,495.9 507.17,481.66 507.77,477.26 508.38,485.8 508.99,479.48 509.59,479.57 510.2,474.7 510.81,486.16 511.41,486.21 512.02,485.8 512.63,471.62 513.23,474.18 513.84,489.62 514.45,487.44 515.05,488.13 515.66,487.58 516.27,490.16 516.87,490.94 517.48,496.72 518.09,492.87 518.69,478.51 519.3,485.49 519.91,488.44 520.51,490.2 521.12,488.46 521.73,486.64 522.33,492.9 522.94,487.62 523.55,487.35 524.15,493.54 524.76,493.79 525.37,495.11 525.97,495.51 526.58,483.27 527.19,502.95 527.79,490.52 528.4,492.68 528.4,472.4 529.01,492.73 529.61,488.24 530.22,481.78 530.83,488.37 531.43,489.73 532.04,492.69 532.65,489.66 533.25,483.13 533.86,491.32 534.47,496.03 535.07,496.77 535.68,495.79 536.29,497.56 536.89,481.96 537.5,486.62 538.11,490.34 538.71,479.7 539.32,492.97 539.93,484.13 540.53,483.83 541.14,498.54 541.75,498.61 542.35,494.66 542.96,480.82 542.96,467.7 543.57,478.38 544.17,506.08 544.17,494.19 544.78,479.93 545.39,488.9 545.99,488.97 546.6,489.95 547.21,488.53 547.81,497.89 548.42,492.77 549.03,494.24 549.63,483.43 550.24,473.41 550.85,471.62 551.45,488.61 552.06,497.29 552.67,489.05 553.27,492.39 553.88,474.07 554.49,482.92 555.09,491.07 555.7,480.64 556.31,483.14 556.91,496.69 557.52,489.83 558.13,488 558.73,486.38 559.34,485.67 559.95,488.62 560.55,485.31 561.16,490.17 561.77,492.12 562.37,477 562.98,484.24 563.59,483.75 564.19,496.5 564.8,487.54 565.41,481.37 566.01,494.59 566.62,479.62 567.23,488.94 567.83,483.98 568.44,487.33 569.05,485.13 569.65,478.96 570.26,489.03 570.87,476.7 571.47,508.43 571.47,491.4 572.08,490.77 572.69,480.48 572.69,463 573.29,491.61 573.9,487.25 574.51,479.25 575.11,477.35 575.72,496.06 576.33,481.76 576.93,473.13 577.54,477.44 578.15,486.44 578.75,488.7 579.36,486.79 579.97,492.16 580.57,486.59 581.18,486.11 581.79,485.85 582.39,477.52 583,486.38 583.61,494.07 584.21,478.35 584.82,491.66 585.43,487.74 586.03,485.77 586.64,487.09 587.25,491.22 587.85,486.49 588.46,471.62 589.07,488.74 589.67,485.79 590.28,477.89 590.89,480.27 591.49,480.15 592.1,479.53 592.71,497.27 593.31,490.35 593.92,484.13 594.53,481.81 595.13,476.82 595.13,472.4 595.74,481.99 596.35,486.43 596.95,484.69 597.56,486.26 598.17,483.39 598.77,480.71 599.38,487.06 599.99,490.03 600.59,490.29 601.2,478.06 601.81,476.91 602.41,478.72 603.02,479.56 603.63,479.71 604.23,484.95 604.84,480.77 605.45,491.53 606.05,486.21 606.66,489.53 607.27,480.38 607.87,488.57 608.48,485.61 609.09,482.42 609.69,476.44 610.3,489.9 610.91,490.82 611.51,479.81 612.12,491.87 612.73,482.1 613.33,488.51 613.94,485.6 614.55,496.34 615.15,480.46 615.76,488.07 616.37,490.56 616.97,471.92 617.58,480.47 618.19,471.62 618.79,482.38 619.4,487.12 620.01,484.26 620.61,474.86 621.22,485.1 621.83,482.11 622.43,481.7 623.04,490.64 623.65,484.13 624.25,488.08 624.86,492.74 625.47,479.47 626.07,480.76 626.68,484.47 627.29,490.62 627.89,497.5 628.5,481.89 629.11,485.55 629.71,495.49 630.32,485.31 630.93,494.47 631.53,485.1 632.14,484.04 632.75,482.71 633.35,483.57 633.96,483.86 634.57,492.08 635.17,487.34 635.78,488.14 636.39,486.41 636.99,483.24 637.6,481.05 638.21,474.69 638.81,501.03 639.42,482.42 640.03,486.18 640.63,471.62 641.24,479.08 641.85,495.29 642.45,482.42 643.06,488.2 643.67,478.71 644.27,491.55 644.88,485.57 645.49,485.76 646.09,485.54 646.7,488.59 647.31,496.45 647.91,482.05 648.52,478.67 649.13,485.36 649.73,491.31 650.34,483.66 650.95,481.39 651.55,486.03 652.16,485.02 652.77,476.11 653.37,502.17 653.37,491.94 653.98,488.43 654.59,496.88 654.59,470.83 655.19,489.32 655.8,489.57 656.41,490.95" fill="none" stroke="#999" stroke-width="0.5"/>
<path fill="#0000FF" d="M380.25 491.62h5.1v5.1h-5.1zM380.86 481.58h5.1v5.1h-5.1zM381.46 477.71h5.1v5.1h-5.1zM382.07 487.17h5.1v5.1h-5.1zM382.68 492.28h5.1v5.1h-5.1zM383.28 484.36h5.1v5.1h-5.1zM383.89 480.95h5.1v5.1h-5.1zM384.5 477.07h5.1v5.1h-5.1zM385.1 491.57h5.1v5.1h-5.1zM385.71 492.05h5.1v5.1h-5.1zM386.32 479.53h5.1v5.1h-5.1zM386.92 480.98h5.1v5.1h-5.1zM387.53 474.34h5.1v5.1h-5.1zM388.14 500.4h5.1v5.1h-5.1zM388.14 477.79h5.1v5.1h-5.1zM388.74 484.59h5.1v5.1h-5.1zM389.35 485.67h5.1v5.1h-5.1zM389.96 469.07h5.1v5.1h-5.1zM390.56 485.76h5.1v5.1h-5.1zM391.17 488.87h5.1v5.1h-5.1zM391.78 491.08h5.1v5.1h-5.1zM392.38 483.35h5.1v5.1h-5.1zM392.38 469.85h5.1v5.1h-5.1zM392.99 483.04h5.1v5.1h-5.1zM393.6 486.11h5.1v5.1h-5.1zM394.2 484.34h5.1v5.1h-5.1zM394.81 482.24h5.1v5.1h-5.1zM395.42 479.61h5.1v5.1h-5.1zM396.02 477.08h5.1v5.1h-5.1zM396.63 482.64h5.1v5.1h-5.1zM397.24 495.17h5.1v5.1h-5.1zM397.84 479.55h5.1v5.1h-5.1zM398.45 492.85h5.1v5.1h-5.1zM399.06 485.02h5.1v5.1h-5.1zM399.66 493.19h5.1v5.1h-5.1zM400.27 483.94h5.1v5.1h-5.1zM400.88 488.83h5.1v5.1h-5.1zM401.48 482.61h5.1v5.1h-5.1zM402.09 469.07h5.1v5.1h-5.1zM402.7 484.25h5.1v5.1h-5.1zM403.3 478.67h5.1v5.1h-5.1zM403.91 492.24h5.1v5.1h-5.1zM404.52 485.76h5.1v5.1h-5.1zM405.12 479.8h5.1v5.1h-5.1zM405.73 484.53h5.1v5.1h-5.1zM406.34 481.63h5.1v5.1h-5.1zM406.94 483.3h5.1v5.1h-5.1zM407.55 490.26h5.1v5.1h-5.1zM408.16 480.42h5.1v5.1h-5.1zM408.76 489.04h5.1v5.1h-5.1zM409.37 472.22h5.1v5.1h-5.1zM409.98 487.12h5.1v5.1h-5.1zM410.58 479.65h5.1v5.1h-5.1zM411.19 483.94h5.1v5.1h-5.1zM411.8 477.98h5.1v5.1h-5.1zM412.4 487.72h5.1v5.1h-5.1zM413.01 477.69h5.1v5.1h-5.1zM413.62 498.83h5.1v5.1h-5.1zM413.62 484.73h5.1v5.1h-5.1zM414.22 476.03h5.1v5.1h-5.1zM414.83 480.04h5.1v5.1h-5.1zM415.44 483.06h5.1v5.1h-5.1zM416.04 488.84h5.1v5.1h-5.1zM416.65 479.14h5.1v5.1h-5.1zM417.26 481.02h5.1v5.1h-5.1zM417.86 473.66h5.1v5.1h-5.1zM418.47 486.31h5.1v5.1h-5.1zM419.08 480.47h5.1v5.1h-5.1zM419.08 469.85h5.1v5.1h-5.1zM419.68 480.77h5.1v5.1h-5.1zM420.29 482.18h5.1v5.1h-5.1zM420.9 482.64h5.1v5.1h-5.1zM421.5 482.81h5.1v5.1h-5.1zM422.11 487.7h5.1v5.1h-5.1zM422.72 490.31h5.1v5.1h-5.1zM423.32 486.43h5.1v5.1h-5.1zM423.93 480.25h5.1v5.1h-5.1zM424.54 474.48h5.1v5.1h-5.1zM425.14 477.83h5.1v5.1h-5.1zM425.75 477.35h5.1v5.1h-5.1zM426.36 479.08h5.1v5.1h-5.1zM426.96 479.57h5.1v5.1h-5.1zM427.57 482.8h5.1v5.1h-5.1zM428.18 479.12h5.1v5.1h-5.1zM428.78 472.83h5.1v5.1h-5.1zM429.39 486h5.1v5.1h-5.1zM430 488.3h5.1v5.1h-5.1zM430.6 471.67h5.1v5.1h-5.1zM431.21 482.42h5.1v5.1h-5.1zM431.82 477.87h5.1v5.1h-5.1zM432.42 478.47h5.1v5.1h-5.1zM433.03 491.07h5.1v5.1h-5.1zM433.64 469.07h5.1v5.1h-5.1zM434.24 472.82h5.1v5.1h-5.1zM434.85 482.84h5.1v5.1h-5.1zM435.46 479.23h5.1v5.1h-5.1zM436.06 483.15h5.1v5.1h-5.1zM436.67 489.49h5.1v5.1h-5.1zM437.28 484.65h5.1v5.1h-5.1zM437.88 481.61h5.1v5.1h-5.1zM438.49 476.96h5.1v5.1h-5.1zM439.1 479.51h5.1v5.1h-5.1zM439.7 483.58h5.1v5.1h-5.1zM440.31 475.46h5.1v5.1h-5.1zM440.92 488.72h5.1v5.1h-5.1zM441.52 478.98h5.1v5.1h-5.1zM442.13 476.98h5.1v5.1h-5.1zM442.74 485.78h5.1v5.1h-5.1zM443.34 495.17h5.1v5.1h-5.1zM443.95 489.63h5.1v5.1h-5.1zM444.56 482.46h5.1v5.1h-5.1zM445.16 480.64h5.1v5.1h-5.1zM445.77 474.25h5.1v5.1h-5.1zM446.38 490.24h5.1v5.1h-5.1zM446.98 483.94h5.1v5.1h-5.1zM447.59 479.88h5.1v5.1h-5.1zM448.2 484.94h5.1v5.1h-5.1zM448.8 498.8h5.1v5.1h-5.1zM449.41 478.9h5.1v5.1h-5.1zM450.02 469.46h5.1v5.1h-5.1zM450.62 477.66h5.1v5.1h-5.1zM451.23 489.7h5.1v5.1h-5.1zM451.84 486.53h5.1v5.1h-5.1zM452.44 505.88h5.1v5.1h-5.1zM452.44 482.56h5.1v5.1h-5.1zM453.05 469.07h5.1v5.1h-5.1zM453.66 501.18h5.1v5.1h-5.1zM453.66 480.08h5.1v5.1h-5.1zM454.26 483.24h5.1v5.1h-5.1zM454.87 474.19h5.1v5.1h-5.1zM455.48 484.46h5.1v5.1h-5.1zM456.08 472.29h5.1v5.1h-5.1zM456.69 488.24h5.1v5.1h-5.1zM457.3 486.93h5.1v5.1h-5.1zM457.9 479.43h5.1v5.1h-5.1zM458.51 475.02h5.1v5.1h-5.1zM459.12 479.85h5.1v5.1h-5.1zM459.72 482.06h5.1v5.1h-5.1zM460.33 495.37h5.1v5.1h-5.1zM460.94 488.42h5.1v5.1h-5.1zM461.54 487.78h5.1v5.1h-5.1zM462.15 487.29h5.1v5.1h-5.1zM462.76 480.27h5.1v5.1h-5.1zM463.36 486.05h5.1v5.1h-5.1zM463.97 479.01h5.1v5.1h-5.1zM464.58 483.43h5.1v5.1h-5.1zM465.18 486.04h5.1v5.1h-5.1zM465.18 469.85h5.1v5.1h-5.1zM465.79 483.21h5.1v5.1h-5.1zM466.4 481.26h5.1v5.1h-5.1zM467 478.57h5.1v5.1h-5.1zM467.61 486.94h5.1v5.1h-5.1zM468.22 485.41h5.1v5.1h-5.1zM468.82 492.5h5.1v5.1h-5.1zM469.43 473.9h5.1v5.1h-5.1zM470.04 474.85h5.1v5.1h-5.1zM470.64 485.07h5.1v5.1h-5.1zM471.25 486.95h5.1v5.1h-5.1zM471.86 491.69h5.1v5.1h-5.1zM472.46 482.89h5.1v5.1h-5.1zM473.07 482.66h5.1v5.1h-5.1zM473.68 470.28h5.1v5.1h-5.1zM474.28 482.41h5.1v5.1h-5.1zM474.89 488.82h5.1v5.1h-5.1zM475.5 499.27h5.1v5.1h-5.1zM476.1 475.12h5.1v5.1h-5.1zM476.71 482.76h5.1v5.1h-5.1zM477.32 494.03h5.1v5.1h-5.1zM477.92 482.82h5.1v5.1h-5.1zM478.53 494.03h5.1v5.1h-5.1zM479.14 469.07h5.1v5.1h-5.1zM479.74 476.94h5.1v5.1h-5.1zM480.35 480.36h5.1v5.1h-5.1zM480.96 485.05h5.1v5.1h-5.1zM481.56 497.36h5.1v5.1h-5.1zM482.17 491.61h5.1v5.1h-5.1zM482.78 495.68h5.1v5.1h-5.1zM483.38 484.32h5.1v5.1h-5.1zM483.99 495.51h5.1v5.1h-5.1zM484.6 489.23h5.1v5.1h-5.1zM485.2 498.33h5.1v5.1h-5.1zM485.81 498.98h5.1v5.1h-5.1zM486.42 500.71h5.1v5.1h-5.1zM487.02 497.14h5.1v5.1h-5.1zM487.63 501.97h5.1v5.1h-5.1zM488.24 507.27h5.1v5.1h-5.1zM488.84 510.35h5.1v5.1h-5.1zM489.45 504.27h5.1v5.1h-5.1zM490.06 505.52h5.1v5.1h-5.1zM490.66 509.59h5.1v5.1h-5.1zM491.27 508.45h5.1v5.1h-5.1zM491.88 511.36h5.1v5.1h-5.1zM492.48 511.02h5.1v5.1h-5.1zM493.09 524.68h5.1v5.1h-5.1zM493.09 502.83h5.1v5.1h-5.1zM493.7 496.03h5.1v5.1h-5.1zM494.3 497.56h5.1v5.1h-5.1zM494.91 501.26h5.1v5.1h-5.1zM495.52 493.31h5.1v5.1h-5.1zM496.12 489.33h5.1v5.1h-5.1zM496.73 488.74h5.1v5.1h-5.1zM497.34 479.16h5.1v5.1h-5.1zM497.94 496.99h5.1v5.1h-5.1zM498.55 473.96h5.1v5.1h-5.1zM499.16 482.68h5.1v5.1h-5.1zM499.76 483.2h5.1v5.1h-5.1zM500.37 481.19h5.1v5.1h-5.1zM500.98 473.65h5.1v5.1h-5.1zM501.58 472.92h5.1v5.1h-5.1zM502.19 472.13h5.1v5.1h-5.1zM502.8 488.87h5.1v5.1h-5.1zM503.4 482.17h5.1v5.1h-5.1zM504.01 493.35h5.1v5.1h-5.1zM504.62 479.11h5.1v5.1h-5.1zM505.22 474.71h5.1v5.1h-5.1zM505.83 483.25h5.1v5.1h-5.1zM506.44 476.93h5.1v5.1h-5.1zM507.04 477.02h5.1v5.1h-5.1zM507.65 472.15h5.1v5.1h-5.1zM508.26 483.61h5.1v5.1h-5.1zM508.86 483.66h5.1v5.1h-5.1zM509.47 483.25h5.1v5.1h-5.1zM510.08 469.07h5.1v5.1h-5.1zM510.68 471.63h5.1v5.1h-5.1zM511.29 487.07h5.1v5.1h-5.1zM511.9 484.89h5.1v5.1h-5.1zM512.5 485.58h5.1v5.1h-5.1zM513.11 485.03h5.1v5.1h-5.1zM513.72 487.61h5.1v5.1h-5.1zM514.32 488.39h5.1v5.1h-5.1zM514.93 494.17h5.1v5.1h-5.1zM515.54 490.32h5.1v5.1h-5.1zM516.14 475.96h5.1v5.1h-5.1zM516.75 482.94h5.1v5.1h-5.1zM517.36 485.89h5.1v5.1h-5.1zM517.96 487.65h5.1v5.1h-5.1zM518.57 485.91h5.1v5.1h-5.1zM519.18 484.09h5.1v5.1h-5.1zM519.78 490.35h5.1v5.1h-5.1zM520.39 485.07h5.1v5.1h-5.1zM521 484.8h5.1v5.1h-5.1zM521.6 490.99h5.1v5.1h-5.1zM522.21 491.24h5.1v5.1h-5.1zM522.82 492.56h5.1v5.1h-5.1zM523.42 492.96h5.1v5.1h-5.1zM524.03 480.72h5.1v5.1h-5.1zM524.64 500.4h5.1v5.1h-5.1zM525.24 487.97h5.1v5.1h-5.1zM525.85 490.13h5.1v5.1h-5.1zM525.85 469.85h5.1v5.1h-5.1zM526.46 490.18h5.1v5.1h-5.1zM527.06 485.69h5.1v5.1h-5.1zM527.67 479.23h5.1v5.1h-5.1zM528.28 485.82h5.1v5.1h-5.1zM528.88 487.18h5.1v5.1h-5.1zM529.49 490.14h5.1v5.1h-5.1zM530.1 487.11h5.1v5.1h-5.1zM530.7 480.58h5.1v5.1h-5.1zM531.31 488.77h5.1v5.1h-5.1zM531.92 493.48h5.1v5.1h-5.1zM532.52 494.22h5.1v5.1h-5.1zM533.13 493.24h5.1v5.1h-5.1zM533.74 495.01h5.1v5.1h-5.1zM534.34 479.41h5.1v5.1h-5.1zM534.95 484.07h5.1v5.1h-5.1zM535.56 487.79h5.1v5.1h-5.1zM536.16 477.15h5.1v5.1h-5.1zM536.77 490.42h5.1v5.1h-5.1zM537.38 481.58h5.1v5.1h-5.1zM537.98 481.28h5.1v5.1h-5.1zM538.59 495.99h5.1v5.1h-5.1zM539.2 496.06h5.1v5.1h-5.1zM539.8 492.11h5.1v5.1h-5.1zM540.41 478.27h5.1v5.1h-5.1zM540.41 465.15h5.1v5.1h-5.1zM541.02 475.83h5.1v5.1h-5.1zM541.62 503.53h5.1v5.1h-5.1zM541.62 491.64h5.1v5.1h-5.1zM542.23 477.38h5.1v5.1h-5.1zM542.84 486.35h5.1v5.1h-5.1zM543.44 486.42h5.1v5.1h-5.1zM544.05 487.4h5.1v5.1h-5.1zM544.66 485.98h5.1v5.1h-5.1zM545.26 495.34h5.1v5.1h-5.1zM545.87 490.22h5.1v5.1h-5.1zM546.48 491.69h5.1v5.1h-5.1zM547.08 480.88h5.1v5.1h-5.1zM547.69 470.86h5.1v5.1h-5.1zM548.3 469.07h5.1v5.1h-5.1zM548.9 486.06h5.1v5.1h-5.1zM549.51 494.74h5.1v5.1h-5.1zM550.12 486.5h5.1v5.1h-5.1zM550.72 489.84h5.1v5.1h-5.1zM551.33 471.52h5.1v5.1h-5.1zM551.94 480.37h5.1v5.1h-5.1zM552.54 488.52h5.1v5.1h-5.1zM553.15 478.09h5.1v5.1h-5.1zM553.76 480.59h5.1v5.1h-5.1zM554.36 494.14h5.1v5.1h-5.1zM554.97 487.28h5.1v5.1h-5.1zM555.58 485.45h5.1v5.1h-5.1zM556.18 483.83h5.1v5.1h-5.1zM556.79 483.12h5.1v5.1h-5.1zM557.4 486.07h5.1v5.1h-5.1zM558 482.76h5.1v5.1h-5.1zM558.61 487.62h5.1v5.1h-5.1zM559.22 489.57h5.1v5.1h-5.1zM559.82 474.45h5.1v5.1h-5.1zM560.43 481.69h5.1v5.1h-5.1zM561.04 481.2h5.1v5.1h-5.1zM561.64 493.95h5.1v5.1h-5.1zM562.25 484.99h5.1v5.1h-5.1zM562.86 478.82h5.1v5.1h-5.1zM563.46 492.04h5.1v5.1h-5.1zM564.07 477.07h5.1v5.1h-5.1zM564.68 486.39h5.1v5.1h-5.1zM565.28 481.43h5.1v5.1h-5.1zM565.89 484.78h5.1v5.1h-5.1zM566.5 482.58h5.1v5.1h-5.1zM567.1 476.41h5.1v5.1h-5.1zM567.71 486.48h5.1v5.1h-5.1zM568.32 474.15h5.1v5.1h-5.1zM568.92 505.88h5.1v5.1h-5.1zM568.92 488.85h5.1v5.1h-5.1zM569.53 488.22h5.1v5.1h-5.1zM570.14 477.93h5.1v5.1h-5.1zM570.14 460.45h5.1v5.1h-5.1zM570.74 489.06h5.1v5.1h-5.1zM571.35 484.7h5.1v5.1h-5.1zM571.96 476.7h5.1v5.1h-5.1zM572.56 474.8h5.1v5.1h-5.1zM573.17 493.51h5.1v5.1h-5.1zM573.78 479.21h5.1v5.1h-5.1zM574.38 470.58h5.1v5.1h-5.1zM574.99 474.89h5.1v5.1h-5.1zM575.6 483.89h5.1v5.1h-5.1zM576.2 486.15h5.1v5.1h-5.1zM576.81 484.24h5.1v5.1h-5.1zM577.42 489.61h5.1v5.1h-5.1zM578.02 484.04h5.1v5.1h-5.1zM578.63 483.56h5.1v5.1h-5.1zM579.24 483.3h5.1v5.1h-5.1zM579.84 474.97h5.1v5.1h-5.1zM580.45 483.83h5.1v5.1h-5.1zM581.06 491.52h5.1v5.1h-5.1zM581.66 475.8h5.1v5.1h-5.1zM582.27 489.11h5.1v5.1h-5.1zM582.88 485.19h5.1v5.1h-5.1zM583.48 483.22h5.1v5.1h-5.1zM584.09 484.54h5.1v5.1h-5.1zM584.7 488.67h5.1v5.1h-5.1zM585.3 483.94h5.1v5.1h-5.1zM585.91 469.07h5.1v5.1h-5.1zM586.52 486.19h5.1v5.1h-5.1zM587.12 483.24h5.1v5.1h-5.1zM587.73 475.34h5.1v5.1h-5.1zM588.34 477.72h5.1v5.1h-5.1zM588.94 477.6h5.1v5.1h-5.1zM589.55 476.98h5.1v5.1h-5.1zM590.16 494.72h5.1v5.1h-5.1zM590.76 487.8h5.1v5.1h-5.1zM591.37 481.58h5.1v5.1h-5.1zM591.98 479.26h5.1v5.1h-5.1zM592.58 474.27h5.1v5.1h-5.1zM592.58 469.85h5.1v5.1h-5.1zM593.19 479.44h5.1v5.1h-5.1zM593.8 483.88h5.1v5.1h-5.1zM594.4 482.14h5.1v5.1h-5.1zM595.01 483.71h5.1v5.1h-5.1zM595.62 480.84h5.1v5.1h-5.1zM596.22 478.16h5.1v5.1h-5.1zM596.83 484.51h5.1v5.1h-5.1zM597.44 487.48h5.1v5.1h-5.1zM598.04 487.74h5.1v5.1h-5.1zM598.65 475.51h5.1v5.1h-5.1zM599.26 474.36h5.1v5.1h-5.1zM599.86 476.17h5.1v5.1h-5.1zM600.47 477.01h5.1v5.1h-5.1zM601.08 477.16h5.1v5.1h-5.1zM601.68 482.4h5.1v5.1h-5.1zM602.29 478.22h5.1v5.1h-5.1zM602.9 488.98h5.1v5.1h-5.1zM603.5 483.66h5.1v5.1h-5.1zM604.11 486.98h5.1v5.1h-5.1zM604.72 477.83h5.1v5.1h-5.1zM605.32 486.02h5.1v5.1h-5.1zM605.93 483.06h5.1v5.1h-5.1zM606.54 479.87h5.1v5.1h-5.1zM607.14 473.89h5.1v5.1h-5.1zM607.75 487.35h5.1v5.1h-5.1zM608.36 488.27h5.1v5.1h-5.1zM608.96 477.26h5.1v5.1h-5.1zM609.57 489.32h5.1v5.1h-5.1zM610.18 479.55h5.1v5.1h-5.1zM610.78 485.96h5.1v5.1h-5.1zM611.39 483.05h5.1v5.1h-5.1zM612 493.79h5.1v5.1h-5.1zM612.6 477.91h5.1v5.1h-5.1zM613.21 485.52h5.1v5.1h-5.1zM613.82 488.01h5.1v5.1h-5.1zM614.42 469.37h5.1v5.1h-5.1zM615.03 477.92h5.1v5.1h-5.1zM615.64 469.07h5.1v5.1h-5.1zM616.24 479.83h5.1v5.1h-5.1zM616.85 484.57h5.1v5.1h-5.1zM617.46 481.71h5.1v5.1h-5.1zM618.06 472.31h5.1v5.1h-5.1zM618.67 482.55h5.1v5.1h-5.1zM619.28 479.56h5.1v5.1h-5.1zM619.88 479.15h5.1v5.1h-5.1zM620.49 488.09h5.1v5.1h-5.1zM621.1 481.58h5.1v5.1h-5.1zM621.7 485.53h5.1v5.1h-5.1zM622.31 490.19h5.1v5.1h-5.1zM622.92 476.92h5.1v5.1h-5.1zM623.52 478.21h5.1v5.1h-5.1zM624.13 481.92h5.1v5.1h-5.1zM624.74 488.07h5.1v5.1h-5.1zM625.34 494.95h5.1v5.1h-5.1zM625.95 479.34h5.1v5.1h-5.1zM626.56 483h5.1v5.1h-5.1zM627.16 492.94h5.1v5.1h-5.1zM627.77 482.76h5.1v5.1h-5.1zM628.38 491.92h5.1v5.1h-5.1zM628.98 482.55h5.1v5.1h-5.1zM629.59 481.49h5.1v5.1h-5.1zM630.2 480.16h5.1v5.1h-5.1zM630.8 481.02h5.1v5.1h-5.1zM631.41 481.31h5.1v5.1h-5.1zM632.02 489.53h5.1v5.1h-5.1zM632.62 484.79h5.1v5.1h-5.1zM633.23 485.59h5.1v5.1h-5.1zM633.84 483.86h5.1v5.1h-5.1zM634.44 480.69h5.1v5.1h-5.1zM635.05 478.5h5.1v5.1h-5.1zM635.66 472.14h5.1v5.1h-5.1zM636.26 498.48h5.1v5.1h-5.1zM636.87 479.87h5.1v5.1h-5.1zM637.48 483.63h5.1v5.1h-5.1zM638.08 469.07h5.1v5.1h-5.1zM638.69 476.53h5.1v5.1h-5.1zM639.3 492.74h5.1v5.1h-5.1zM639.9 479.87h5.1v5.1h-5.1zM640.51 485.65h5.1v5.1h-5.1zM641.12 476.16h5.1v5.1h-5.1zM641.72 489h5.1v5.1h-5.1zM642.33 483.02h5.1v5.1h-5.1zM642.94 483.21h5.1v5.1h-5.1zM643.54 482.99h5.1v5.1h-5.1zM644.15 486.04h5.1v5.1h-5.1zM644.76 493.9h5.1v5.1h-5.1zM645.36 479.5h5.1v5.1h-5.1zM645.97 476.12h5.1v5.1h-5.1zM646.58 482.81h5.1v5.1h-5.1zM647.18 488.76h5.1v5.1h-5.1zM647.79 481.11h5.1v5.1h-5.1zM648.4 478.84h5.1v5.1h-5.1zM649 483.48h5.1v5.1h-5.1zM649.61 482.47h5.1v5.1h-5.1zM650.22 473.56h5.1v5.1h-5.1zM650.82 499.62h5.1v5.1h-5.1zM650.82 489.39h5.1v5.1h-5.1zM651.43 485.88h5.1v5.1h-5.1zM652.04 494.33h5.1v5.1h-5.1zM652.04 468.28h5.1v5.1h-5.1zM652.64 486.77h5.1v5.1h-5.1zM653.25 487.02h5.1v5.1h-5.1zM653.86 488.4h5.1v5.1h-5.1z"/>
<line x1="455.6" y1="331.4" x2="455.6" y2="566.4" stroke="#FF0000" stroke-width="2" stroke-dasharray="5 2.5"/>
<line x1="484.72" y1="331.4" x2="484.72" y2="566.4" stroke="#FF0000" stroke-width="2" stroke-dasharray="5 2.5"/>
<line x1="513.84" y1="331.4" x2="513.84" y2="566.4" stroke="#FF0000" stroke-width="2" stroke-dasharray="5 2.5"/>
<line x1="542.96" y1="331.4" x2="542.96" y2="566.4" stroke="#FF0000" stroke-width="2" stroke-dasharray="5 2.5"/>
<line x1="572.08" y1="331.4" x2="572.08" y2="566.4" stroke="#FF0000" stroke-width="2" stroke-dasharray="5 2.5"/>
</g>
<rect x="382.8" y="331.4" width="291.2" height="235" fill="none" stroke="#2b2b2b" stroke-width="1.1"/>
<rect x="389.2" y="334.3" width="48.5" height="17.1" fill="#fff" stroke="#aaa" stroke-width="0.8"/>
<line x1="391" y1="342.8" x2="418" y2="342.8" stroke="#888" stroke-width="0.7" />
<rect x="402.15" y="340.25" width="5.1" height="5.1" fill="#0000FF"/>
<text x="421.2" y="346.8" font-size="12" text-anchor="start" fill="#222" stroke="#222" stroke-width="0.2" style="font-family:'Liberation Serif',serif;font-weight:normal" >pH</text>
<text x="0" y="0" font-size="12.2" text-anchor="middle" fill="#222" stroke="#222" stroke-width="0.2" style="font-family:'Liberation Serif',serif;font-weight:normal" transform="translate(528.8,603.4) scale(1,1.06)" >Time (h)</text>
<text x="0" y="0" font-size="13" text-anchor="middle" fill="#222" stroke="#222" stroke-width="0.2" style="font-family:'Liberation Serif',serif" transform="translate(357.9,448.9) rotate(-90)" textLength="11.9" lengthAdjust="spacingAndGlyphs">pH</text>
<text x="376.4" y="321.9" font-size="20" text-anchor="start" fill="#000" stroke="#000" stroke-width="0.2" style="font-family:'Liberation Serif',serif;font-weight:bold" >e</text>
<line x1="379.1" y1="863" x2="383.7" y2="863" stroke="#444" stroke-width="1" />
<text x="376" y="866.1" font-size="10" text-anchor="end" fill="#777" stroke="#777" stroke-width="0.2" style="font-family:'Liberation Serif',serif;font-weight:normal" >0</text>
<line x1="379.1" y1="845.12" x2="383.7" y2="845.12" stroke="#444" stroke-width="1" />
<text x="376" y="848.22" font-size="10" text-anchor="end" fill="#777" stroke="#777" stroke-width="0.2" style="font-family:'Liberation Serif',serif;font-weight:normal" >2</text>
<line x1="379.1" y1="827.23" x2="383.7" y2="827.23" stroke="#444" stroke-width="1" />
<text x="376" y="830.33" font-size="10" text-anchor="end" fill="#777" stroke="#777" stroke-width="0.2" style="font-family:'Liberation Serif',serif;font-weight:normal" >4</text>
<line x1="379.1" y1="809.35" x2="383.7" y2="809.35" stroke="#444" stroke-width="1" />
<text x="376" y="812.45" font-size="10" text-anchor="end" fill="#777" stroke="#777" stroke-width="0.2" style="font-family:'Liberation Serif',serif;font-weight:normal" >6</text>
<line x1="379.1" y1="791.46" x2="383.7" y2="791.46" stroke="#444" stroke-width="1" />
<text x="376" y="794.56" font-size="10" text-anchor="end" fill="#777" stroke="#777" stroke-width="0.2" style="font-family:'Liberation Serif',serif;font-weight:normal" >8</text>
<line x1="379.1" y1="773.58" x2="383.7" y2="773.58" stroke="#444" stroke-width="1" />
<text x="376" y="776.68" font-size="10" text-anchor="end" fill="#777" stroke="#777" stroke-width="0.2" style="font-family:'Liberation Serif',serif;font-weight:normal" >10</text>
<line x1="379.1" y1="755.69" x2="383.7" y2="755.69" stroke="#444" stroke-width="1" />
<text x="376" y="758.79" font-size="10" text-anchor="end" fill="#777" stroke="#777" stroke-width="0.2" style="font-family:'Liberation Serif',serif;font-weight:normal" >12</text>
<line x1="379.1" y1="737.81" x2="383.7" y2="737.81" stroke="#444" stroke-width="1" />
<text x="376" y="740.91" font-size="10" text-anchor="end" fill="#777" stroke="#777" stroke-width="0.2" style="font-family:'Liberation Serif',serif;font-weight:normal" >14</text>
<line x1="379.1" y1="719.92" x2="383.7" y2="719.92" stroke="#444" stroke-width="1" />
<text x="376" y="723.02" font-size="10" text-anchor="end" fill="#777" stroke="#777" stroke-width="0.2" style="font-family:'Liberation Serif',serif;font-weight:normal" >16</text>
<line x1="379.1" y1="702.04" x2="383.7" y2="702.04" stroke="#444" stroke-width="1" />
<text x="376" y="705.14" font-size="10" text-anchor="end" fill="#777" stroke="#777" stroke-width="0.2" style="font-family:'Liberation Serif',serif;font-weight:normal" >18</text>
<line x1="379.1" y1="684.15" x2="383.7" y2="684.15" stroke="#444" stroke-width="1" />
<text x="376" y="687.25" font-size="10" text-anchor="end" fill="#777" stroke="#777" stroke-width="0.2" style="font-family:'Liberation Serif',serif;font-weight:normal" >20</text>
<line x1="379.1" y1="666.27" x2="383.7" y2="666.27" stroke="#444" stroke-width="1" />
<text x="376" y="669.37" font-size="10" text-anchor="end" fill="#777" stroke="#777" stroke-width="0.2" style="font-family:'Liberation Serif',serif;font-weight:normal" >22</text>
<line x1="379.1" y1="648.38" x2="383.7" y2="648.38" stroke="#444" stroke-width="1" />
<text x="376" y="651.48" font-size="10" text-anchor="end" fill="#777" stroke="#777" stroke-width="0.2" style="font-family:'Liberation Serif',serif;font-weight:normal" >24</text>
<line x1="379.1" y1="630.5" x2="383.7" y2="630.5" stroke="#444" stroke-width="1" />
<text x="376" y="633.6" font-size="10" text-anchor="end" fill="#777" stroke="#777" stroke-width="0.2" style="font-family:'Liberation Serif',serif;font-weight:normal" >26</text>
<line x1="381.2" y1="854.06" x2="383.7" y2="854.06" stroke="#444" stroke-width="1" />
<line x1="381.2" y1="836.17" x2="383.7" y2="836.17" stroke="#444" stroke-width="1" />
<line x1="381.2" y1="818.29" x2="383.7" y2="818.29" stroke="#444" stroke-width="1" />
<line x1="381.2" y1="800.4" x2="383.7" y2="800.4" stroke="#444" stroke-width="1" />
<line x1="381.2" y1="782.52" x2="383.7" y2="782.52" stroke="#444" stroke-width="1" />
<line x1="381.2" y1="764.63" x2="383.7" y2="764.63" stroke="#444" stroke-width="1" />
<line x1="381.2" y1="746.75" x2="383.7" y2="746.75" stroke="#444" stroke-width="1" />
<line x1="381.2" y1="728.87" x2="383.7" y2="728.87" stroke="#444" stroke-width="1" />
<line x1="381.2" y1="710.98" x2="383.7" y2="710.98" stroke="#444" stroke-width="1" />
<line x1="381.2" y1="693.1" x2="383.7" y2="693.1" stroke="#444" stroke-width="1" />
<line x1="381.2" y1="675.21" x2="383.7" y2="675.21" stroke="#444" stroke-width="1" />
<line x1="381.2" y1="657.33" x2="383.7" y2="657.33" stroke="#444" stroke-width="1" />
<line x1="381.2" y1="639.44" x2="383.7" y2="639.44" stroke="#444" stroke-width="1" />
<line x1="672.2" y1="630.5" x2="672.2" y2="863" stroke="#F07070" stroke-width="1.3" />
<line x1="672.2" y1="863" x2="676.2" y2="863" stroke="#F07070" stroke-width="1.2" />
<text x="679.9" y="866.3" font-size="9.6" text-anchor="start" fill="#F06060" stroke="#F06060" stroke-width="0.2" style="font-family:'Liberation Serif',serif;font-weight:normal" >0</text>
<line x1="672.2" y1="833.94" x2="676.2" y2="833.94" stroke="#F07070" stroke-width="1.2" />
<text x="679.9" y="837.24" font-size="9.6" text-anchor="start" fill="#F06060" stroke="#F06060" stroke-width="0.2" style="font-family:'Liberation Serif',serif;font-weight:normal" >1</text>
<line x1="672.2" y1="804.88" x2="676.2" y2="804.88" stroke="#F07070" stroke-width="1.2" />
<text x="679.9" y="808.17" font-size="9.6" text-anchor="start" fill="#F06060" stroke="#F06060" stroke-width="0.2" style="font-family:'Liberation Serif',serif;font-weight:normal" >2</text>
<line x1="672.2" y1="775.81" x2="676.2" y2="775.81" stroke="#F07070" stroke-width="1.2" />
<text x="679.9" y="779.11" font-size="9.6" text-anchor="start" fill="#F06060" stroke="#F06060" stroke-width="0.2" style="font-family:'Liberation Serif',serif;font-weight:normal" >3</text>
<line x1="672.2" y1="746.75" x2="676.2" y2="746.75" stroke="#F07070" stroke-width="1.2" />
<text x="679.9" y="750.05" font-size="9.6" text-anchor="start" fill="#F06060" stroke="#F06060" stroke-width="0.2" style="font-family:'Liberation Serif',serif;font-weight:normal" >4</text>
<line x1="672.2" y1="717.69" x2="676.2" y2="717.69" stroke="#F07070" stroke-width="1.2" />
<text x="679.9" y="720.99" font-size="9.6" text-anchor="start" fill="#F06060" stroke="#F06060" stroke-width="0.2" style="font-family:'Liberation Serif',serif;font-weight:normal" >5</text>
<line x1="672.2" y1="688.62" x2="676.2" y2="688.62" stroke="#F07070" stroke-width="1.2" />
<text x="679.9" y="691.92" font-size="9.6" text-anchor="start" fill="#F06060" stroke="#F06060" stroke-width="0.2" style="font-family:'Liberation Serif',serif;font-weight:normal" >6</text>
<line x1="672.2" y1="659.56" x2="676.2" y2="659.56" stroke="#F07070" stroke-width="1.2" />
<text x="679.9" y="662.86" font-size="9.6" text-anchor="start" fill="#F06060" stroke="#F06060" stroke-width="0.2" style="font-family:'Liberation Serif',serif;font-weight:normal" >7</text>
<line x1="672.2" y1="630.5" x2="676.2" y2="630.5" stroke="#F07070" stroke-width="1.2" />
<text x="679.9" y="633.8" font-size="9.6" text-anchor="start" fill="#F06060" stroke="#F06060" stroke-width="0.2" style="font-family:'Liberation Serif',serif;font-weight:normal" >8</text>
<line x1="672.2" y1="848.47" x2="674.7" y2="848.47" stroke="#F07070" stroke-width="1.2" />
<line x1="672.2" y1="819.41" x2="674.7" y2="819.41" stroke="#F07070" stroke-width="1.2" />
<line x1="672.2" y1="790.34" x2="674.7" y2="790.34" stroke="#F07070" stroke-width="1.2" />
<line x1="672.2" y1="761.28" x2="674.7" y2="761.28" stroke="#F07070" stroke-width="1.2" />
<line x1="672.2" y1="732.22" x2="674.7" y2="732.22" stroke="#F07070" stroke-width="1.2" />
<line x1="672.2" y1="703.16" x2="674.7" y2="703.16" stroke="#F07070" stroke-width="1.2" />
<line x1="672.2" y1="674.09" x2="674.7" y2="674.09" stroke="#F07070" stroke-width="1.2" />
<line x1="672.2" y1="645.03" x2="674.7" y2="645.03" stroke="#F07070" stroke-width="1.2" />
<line x1="383.7" y1="630.5" x2="672.2" y2="630.5" stroke="#2b2b2b" stroke-width="1.2" />
<line x1="398.12" y1="630.5" x2="398.12" y2="634.5" stroke="#2b2b2b" stroke-width="1.1" />
<line x1="412.54" y1="630.5" x2="412.54" y2="634.5" stroke="#2b2b2b" stroke-width="1.1" />
<line x1="426.96" y1="630.5" x2="426.96" y2="634.5" stroke="#2b2b2b" stroke-width="1.1" />
<line x1="441.38" y1="630.5" x2="441.38" y2="634.5" stroke="#2b2b2b" stroke-width="1.1" />
<line x1="455.8" y1="630.5" x2="455.8" y2="634.5" stroke="#2b2b2b" stroke-width="1.1" />
<line x1="470.22" y1="630.5" x2="470.22" y2="634.5" stroke="#2b2b2b" stroke-width="1.1" />
<line x1="484.63" y1="630.5" x2="484.63" y2="634.5" stroke="#2b2b2b" stroke-width="1.1" />
<line x1="499.05" y1="630.5" x2="499.05" y2="634.5" stroke="#2b2b2b" stroke-width="1.1" />
<line x1="513.47" y1="630.5" x2="513.47" y2="634.5" stroke="#2b2b2b" stroke-width="1.1" />
<line x1="527.89" y1="630.5" x2="527.89" y2="634.5" stroke="#2b2b2b" stroke-width="1.1" />
<line x1="542.31" y1="630.5" x2="542.31" y2="634.5" stroke="#2b2b2b" stroke-width="1.1" />
<line x1="556.73" y1="630.5" x2="556.73" y2="634.5" stroke="#2b2b2b" stroke-width="1.1" />
<line x1="571.15" y1="630.5" x2="571.15" y2="634.5" stroke="#2b2b2b" stroke-width="1.1" />
<line x1="585.57" y1="630.5" x2="585.57" y2="634.5" stroke="#2b2b2b" stroke-width="1.1" />
<line x1="599.99" y1="630.5" x2="599.99" y2="634.5" stroke="#2b2b2b" stroke-width="1.1" />
<line x1="614.41" y1="630.5" x2="614.41" y2="634.5" stroke="#2b2b2b" stroke-width="1.1" />
<line x1="628.83" y1="630.5" x2="628.83" y2="634.5" stroke="#2b2b2b" stroke-width="1.1" />
<line x1="643.25" y1="630.5" x2="643.25" y2="634.5" stroke="#2b2b2b" stroke-width="1.1" />
<line x1="657.66" y1="630.5" x2="657.66" y2="634.5" stroke="#2b2b2b" stroke-width="1.1" />
<line x1="383.7" y1="630.5" x2="383.7" y2="863" stroke="#444" stroke-width="1.1" />
<line x1="383.7" y1="863" x2="383.7" y2="867.4" stroke="#444" stroke-width="1.1" />
<text x="0" y="0" font-size="9.5" text-anchor="end" fill="#333" stroke="#333" stroke-width="0.2" style="font-family:'Liberation Serif',serif" transform="translate(391,874.2) rotate(-45)">0</text>
<line x1="398.12" y1="863" x2="398.12" y2="867.4" stroke="#444" stroke-width="1.1" />
<text x="0" y="0" font-size="9.5" text-anchor="end" fill="#333" stroke="#333" stroke-width="0.2" style="font-family:'Liberation Serif',serif" transform="translate(405.42,874.2) rotate(-45)">24</text>
<line x1="412.54" y1="863" x2="412.54" y2="867.4" stroke="#444" stroke-width="1.1" />
<text x="0" y="0" font-size="9.5" text-anchor="end" fill="#333" stroke="#333" stroke-width="0.2" style="font-family:'Liberation Serif',serif" transform="translate(419.84,874.2) rotate(-45)">48</text>
<line x1="426.96" y1="863" x2="426.96" y2="867.4" stroke="#444" stroke-width="1.1" />
<text x="0" y="0" font-size="9.5" text-anchor="end" fill="#333" stroke="#333" stroke-width="0.2" style="font-family:'Liberation Serif',serif" transform="translate(434.26,874.2) rotate(-45)">72</text>
<line x1="441.38" y1="863" x2="441.38" y2="867.4" stroke="#444" stroke-width="1.1" />
<text x="0" y="0" font-size="9.5" text-anchor="end" fill="#333" stroke="#333" stroke-width="0.2" style="font-family:'Liberation Serif',serif" transform="translate(448.68,874.2) rotate(-45)">96</text>
<line x1="455.8" y1="863" x2="455.8" y2="867.4" stroke="#444" stroke-width="1.1" />
<text x="0" y="0" font-size="9.5" text-anchor="end" fill="#333" stroke="#333" stroke-width="0.2" style="font-family:'Liberation Serif',serif" transform="translate(463.1,874.2) rotate(-45)">120</text>
<line x1="470.22" y1="863" x2="470.22" y2="867.4" stroke="#444" stroke-width="1.1" />
<text x="0" y="0" font-size="9.5" text-anchor="end" fill="#333" stroke="#333" stroke-width="0.2" style="font-family:'Liberation Serif',serif" transform="translate(477.52,874.2) rotate(-45)">144</text>
<line x1="484.63" y1="863" x2="484.63" y2="867.4" stroke="#444" stroke-width="1.1" />
<text x="0" y="0" font-size="9.5" text-anchor="end" fill="#333" stroke="#333" stroke-width="0.2" style="font-family:'Liberation Serif',serif" transform="translate(491.93,874.2) rotate(-45)">168</text>
<line x1="499.05" y1="863" x2="499.05" y2="867.4" stroke="#444" stroke-width="1.1" />
<text x="0" y="0" font-size="9.5" text-anchor="end" fill="#333" stroke="#333" stroke-width="0.2" style="font-family:'Liberation Serif',serif" transform="translate(506.35,874.2) rotate(-45)">192</text>
<line x1="513.47" y1="863" x2="513.47" y2="867.4" stroke="#444" stroke-width="1.1" />
<text x="0" y="0" font-size="9.5" text-anchor="end" fill="#333" stroke="#333" stroke-width="0.2" style="font-family:'Liberation Serif',serif" transform="translate(520.77,874.2) rotate(-45)">216</text>
<line x1="527.89" y1="863" x2="527.89" y2="867.4" stroke="#444" stroke-width="1.1" />
<text x="0" y="0" font-size="9.5" text-anchor="end" fill="#333" stroke="#333" stroke-width="0.2" style="font-family:'Liberation Serif',serif" transform="translate(535.19,874.2) rotate(-45)">240</text>
<line x1="542.31" y1="863" x2="542.31" y2="867.4" stroke="#444" stroke-width="1.1" />
<text x="0" y="0" font-size="9.5" text-anchor="end" fill="#333" stroke="#333" stroke-width="0.2" style="font-family:'Liberation Serif',serif" transform="translate(549.61,874.2) rotate(-45)">264</text>
<line x1="556.73" y1="863" x2="556.73" y2="867.4" stroke="#444" stroke-width="1.1" />
<text x="0" y="0" font-size="9.5" text-anchor="end" fill="#333" stroke="#333" stroke-width="0.2" style="font-family:'Liberation Serif',serif" transform="translate(564.03,874.2) rotate(-45)">288</text>
<line x1="571.15" y1="863" x2="571.15" y2="867.4" stroke="#444" stroke-width="1.1" />
<text x="0" y="0" font-size="9.5" text-anchor="end" fill="#333" stroke="#333" stroke-width="0.2" style="font-family:'Liberation Serif',serif" transform="translate(578.45,874.2) rotate(-45)">312</text>
<line x1="585.57" y1="863" x2="585.57" y2="867.4" stroke="#444" stroke-width="1.1" />
<text x="0" y="0" font-size="9.5" text-anchor="end" fill="#333" stroke="#333" stroke-width="0.2" style="font-family:'Liberation Serif',serif" transform="translate(592.87,874.2) rotate(-45)">336</text>
<line x1="599.99" y1="863" x2="599.99" y2="867.4" stroke="#444" stroke-width="1.1" />
<text x="0" y="0" font-size="9.5" text-anchor="end" fill="#333" stroke="#333" stroke-width="0.2" style="font-family:'Liberation Serif',serif" transform="translate(607.29,874.2) rotate(-45)">360</text>
<line x1="614.41" y1="863" x2="614.41" y2="867.4" stroke="#444" stroke-width="1.1" />
<text x="0" y="0" font-size="9.5" text-anchor="end" fill="#333" stroke="#333" stroke-width="0.2" style="font-family:'Liberation Serif',serif" transform="translate(621.71,874.2) rotate(-45)">384</text>
<line x1="628.83" y1="863" x2="628.83" y2="867.4" stroke="#444" stroke-width="1.1" />
<text x="0" y="0" font-size="9.5" text-anchor="end" fill="#333" stroke="#333" stroke-width="0.2" style="font-family:'Liberation Serif',serif" transform="translate(636.13,874.2) rotate(-45)">408</text>
<line x1="643.25" y1="863" x2="643.25" y2="867.4" stroke="#444" stroke-width="1.1" />
<text x="0" y="0" font-size="9.5" text-anchor="end" fill="#333" stroke="#333" stroke-width="0.2" style="font-family:'Liberation Serif',serif" transform="translate(650.55,874.2) rotate(-45)">432</text>
<line x1="657.66" y1="863" x2="657.66" y2="867.4" stroke="#444" stroke-width="1.1" />
<text x="0" y="0" font-size="9.5" text-anchor="end" fill="#333" stroke="#333" stroke-width="0.2" style="font-family:'Liberation Serif',serif" transform="translate(664.96,874.2) rotate(-45)">456</text>
<line x1="672.08" y1="863" x2="672.08" y2="867.4" stroke="#444" stroke-width="1.1" />
<text x="0" y="0" font-size="9.5" text-anchor="end" fill="#333" stroke="#333" stroke-width="0.2" style="font-family:'Liberation Serif',serif" transform="translate(679.38,874.2) rotate(-45)">480</text>
<line x1="383.7" y1="863" x2="672.2" y2="863" stroke="#555" stroke-width="1.5" />
<polyline points="426.96,807.74 441.38,795.49 455.8,800.85 470.22,753.64 484.63,727.43 513.47,685.94 542.31,679.33 571.15,647.49 599.99,731.37" fill="none" stroke="#3d3d3d" stroke-width="2"/>
<rect x="424.76" y="805.54" width="4.4" height="4.4" fill="#3d3d3d"/>
<rect x="439.18" y="793.29" width="4.4" height="4.4" fill="#3d3d3d"/>
<rect x="453.6" y="798.65" width="4.4" height="4.4" fill="#3d3d3d"/>
<rect x="468.02" y="751.44" width="4.4" height="4.4" fill="#3d3d3d"/>
<rect x="482.43" y="725.23" width="4.4" height="4.4" fill="#3d3d3d"/>
<rect x="511.27" y="683.74" width="4.4" height="4.4" fill="#3d3d3d"/>
<rect x="540.11" y="677.12" width="4.4" height="4.4" fill="#3d3d3d"/>
<rect x="568.95" y="645.29" width="4.4" height="4.4" fill="#3d3d3d"/>
<rect x="597.79" y="729.17" width="4.4" height="4.4" fill="#3d3d3d"/>
<polyline points="426.96,859.4 441.38,830.16 455.8,787.15 470.22,756.63 484.63,753.43 513.47,736.58 542.31,705.19 571.15,651.72 599.99,727.57" fill="none" stroke="#EE3333" stroke-width="2"/>
<rect x="424.76" y="857.2" width="4.4" height="4.4" fill="#EE3333"/>
<rect x="439.18" y="827.96" width="4.4" height="4.4" fill="#EE3333"/>
<rect x="453.6" y="784.95" width="4.4" height="4.4" fill="#EE3333"/>
<rect x="468.02" y="754.43" width="4.4" height="4.4" fill="#EE3333"/>
<rect x="482.43" y="751.23" width="4.4" height="4.4" fill="#EE3333"/>
<rect x="511.27" y="734.38" width="4.4" height="4.4" fill="#EE3333"/>
<rect x="540.11" y="702.99" width="4.4" height="4.4" fill="#EE3333"/>
<rect x="568.95" y="649.52" width="4.4" height="4.4" fill="#EE3333"/>
<rect x="597.79" y="725.37" width="4.4" height="4.4" fill="#EE3333"/>
<line x1="455.8" y1="630.5" x2="455.8" y2="863" stroke="#FF0000" stroke-width="2.1" stroke-dasharray="5.5 2"/>
<line x1="484.63" y1="630.5" x2="484.63" y2="863" stroke="#FF0000" stroke-width="2.1" stroke-dasharray="5.5 2"/>
<line x1="513.47" y1="630.5" x2="513.47" y2="863" stroke="#FF0000" stroke-width="2.1" stroke-dasharray="5.5 2"/>
<line x1="542.31" y1="630.5" x2="542.31" y2="863" stroke="#FF0000" stroke-width="2.1" stroke-dasharray="5.5 2"/>
<line x1="571.15" y1="630.5" x2="571.15" y2="863" stroke="#FF0000" stroke-width="2.1" stroke-dasharray="5.5 2"/>
<rect x="390.3" y="639" width="44.2" height="20.3" fill="#fff" stroke="#aaa" stroke-width="0.8"/>
<line x1="391.1" y1="644.3" x2="409.8" y2="644.3" stroke="#3d3d3d" stroke-width="1.8" />
<rect x="398.1" y="642" width="4.8" height="4.8" fill="#3d3d3d"/>
<line x1="391.1" y1="654" x2="409.8" y2="654" stroke="#EE3333" stroke-width="1.8" />
<rect x="398.1" y="651.5" width="4.8" height="4.8" fill="#EE3333"/>
<text x="411.4" y="646.9" font-size="7.7" text-anchor="start" fill="#222" stroke="#222" stroke-width="0.2" style="font-family:'Liberation Serif',serif;font-weight:normal" >DCW</text>
<text x="411.4" y="656.7" font-size="7.6" text-anchor="start" fill="#222" stroke="#222" stroke-width="0.2" style="font-family:'Liberation Serif',serif;font-weight:normal" >OD600</text>
<text x="528" y="901.4" font-size="11.8" text-anchor="middle" fill="#222" stroke="#222" stroke-width="0.2" style="font-family:'Liberation Serif',serif;font-weight:normal" >Time (h)</text>
<text x="0" y="0" font-size="12.3" text-anchor="middle" fill="#222" stroke="#222" stroke-width="0.2" style="font-family:'Liberation Serif',serif" transform="translate(358.8,746.1) rotate(-90)" >DCW (g/L)</text>
<text x="379.3" y="622.5" font-size="20" text-anchor="start" fill="#000" stroke="#000" stroke-width="0.2" style="font-family:'Liberation Serif',serif;font-weight:bold" >f</text>
</svg></body></html>
